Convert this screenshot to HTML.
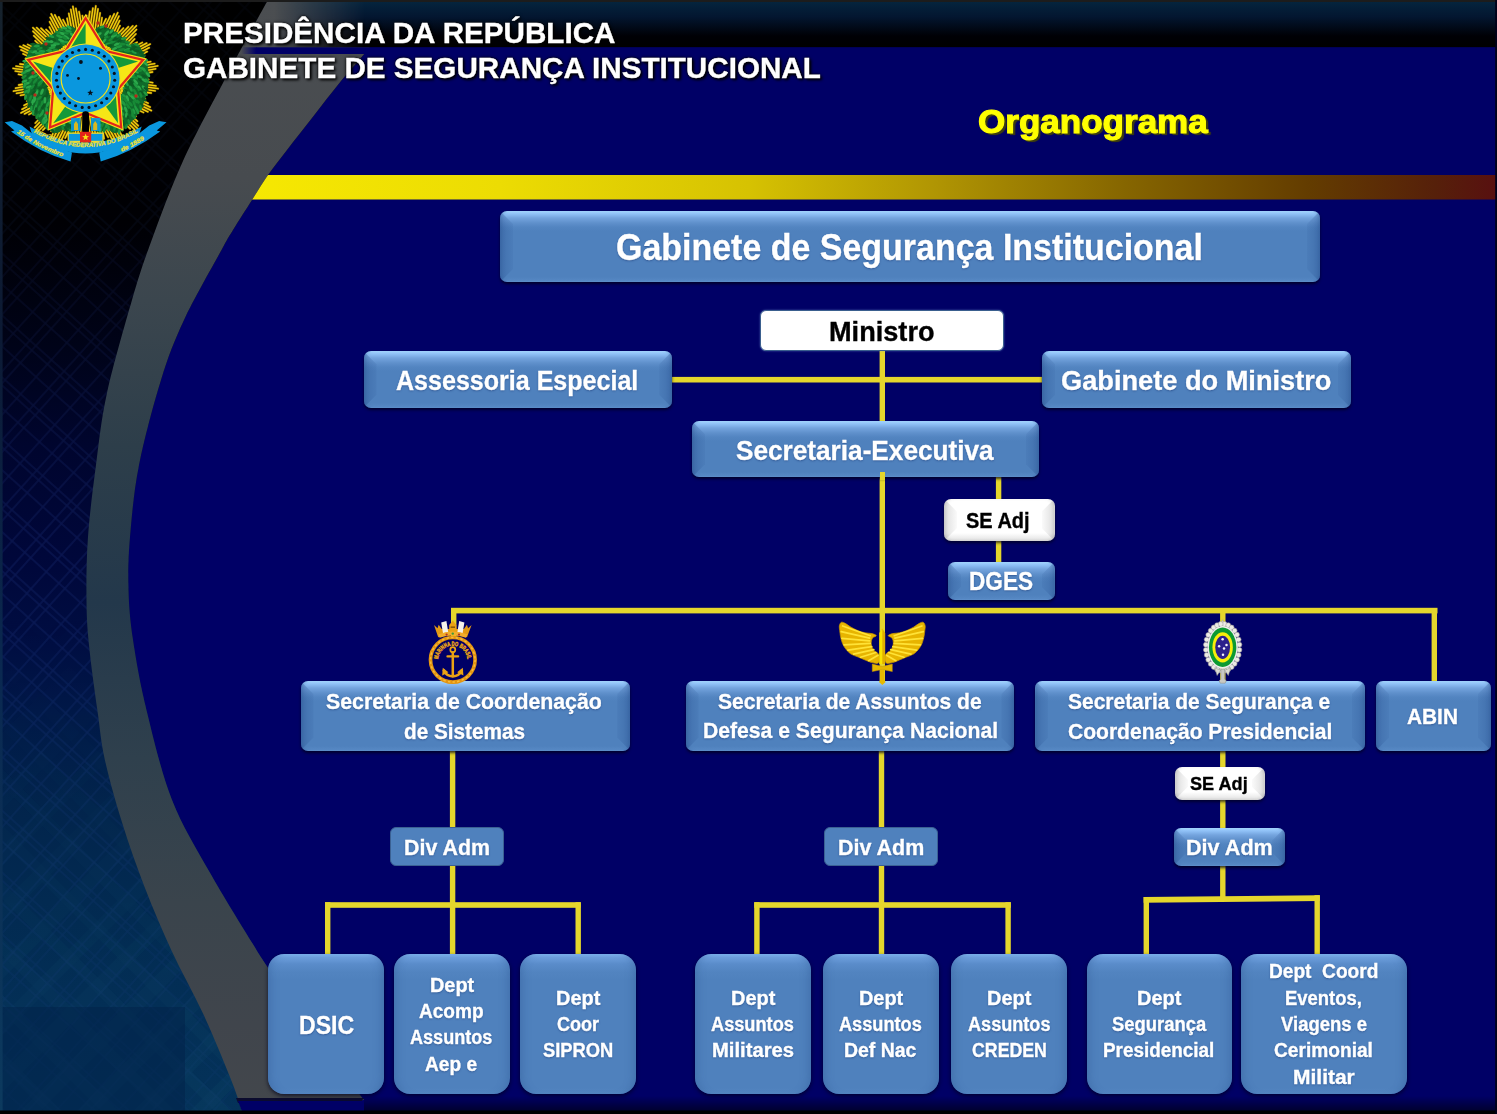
<!DOCTYPE html>
<html lang="pt-BR">
<head>
<meta charset="utf-8">
<title>Organograma - Gabinete de Segurança Institucional</title>
<style>
html,body{margin:0;padding:0;background:#000066;}
body{width:1497px;height:1114px;overflow:hidden;position:relative;font-family:"Liberation Sans",sans-serif;}
#page{position:absolute;left:0;top:0;width:1497px;height:1114px;overflow:hidden;background:#000066;}
#bg,#lines,#icons{position:absolute;left:0;top:0;}
.t{position:absolute;white-space:nowrap;font-weight:bold;line-height:1;transform-origin:0 0;font-family:"Liberation Sans",sans-serif;-webkit-text-stroke:0.35px currentColor;}
.b{position:absolute;box-sizing:border-box;background:#4f81bd;}
.b1{border-radius:7px;
 background:linear-gradient(to bottom,#a4d6ff 0,#8fc0f6 3px,#74a4de 7px,#5f90cb 12px,#5385c1 16px,#4f81bd 20px,#4f81bd calc(100% - 5px),#5688c4 calc(100% - 1px),#6395d0 100%);
 box-shadow:inset 5px 0 4px -4px rgba(40,80,140,.45),inset -5px 0 4px -4px rgba(40,80,140,.45),0 2px 3px rgba(0,0,25,.75);}
.b1::before,.w2::before{content:"";position:absolute;left:0;top:0;bottom:0;width:13px;clip-path:polygon(0 0,100% 13px,100% calc(100% - 13px),0 100%);border-radius:7px 0 0 7px;}
.b1::after,.w2::after{content:"";position:absolute;right:0;top:0;bottom:0;width:13px;clip-path:polygon(100% 0,0 13px,0 calc(100% - 13px),100% 100%);border-radius:0 7px 7px 0;}
.b1::before{background:linear-gradient(to right,rgba(35,75,140,.33),rgba(35,75,140,.08));}
.b1::after{background:linear-gradient(to left,rgba(35,75,140,.33),rgba(35,75,140,.08));}
.w2::before{background:linear-gradient(to right,rgba(130,130,130,.28),rgba(130,130,130,.04));}
.w2::after{background:linear-gradient(to left,rgba(130,130,130,.28),rgba(130,130,130,.04));}
.b2{border-radius:16px;
 background:linear-gradient(to bottom,#7fb2ee 0,#6a9cda 4px,#5a8cca 10px,#5284c0 18px,#4f81bd 26px,#4f81bd calc(100% - 6px),#5587c3 100%);
 box-shadow:inset 8px 0 8px -6px rgba(40,80,140,.35),inset -8px 0 8px -6px rgba(40,80,140,.35),0 2px 4px rgba(0,0,25,.7);}
.b3{border-radius:6px;background:#4f81bd;border:1.5px solid #3b6193;}
.w1{border-radius:6px;background:#fff;border:1.5px solid #3a5f8e;box-shadow:0 0 2px rgba(120,160,220,.6);}
.w2{border-radius:7px;
 background:linear-gradient(to bottom,#ffffff 0,#ffffff calc(100% - 8px),#ececec calc(100% - 3px),#d8d8d8 100%);
 box-shadow:inset 4px 0 4px -3px rgba(120,120,120,.35),inset -4px 0 4px -3px rgba(120,120,120,.35),0 2px 3px rgba(0,0,25,.7);}
</style>
</head>
<body>
<div id="page">
<svg id="bg" width="1497" height="1114" viewBox="0 0 1497 1114">
<defs>
<linearGradient id="gl" x1="0" y1="0" x2="0" y2="1114" gradientUnits="userSpaceOnUse">
<stop offset="0" stop-color="#000000"/><stop offset="0.20" stop-color="#000004"/><stop offset="0.31" stop-color="#000318"/>
<stop offset="0.40" stop-color="#00052e"/><stop offset="0.50" stop-color="#00073a"/><stop offset="0.58" stop-color="#000e42"/>
<stop offset="0.65" stop-color="#001a48"/><stop offset="0.72" stop-color="#02244c"/><stop offset="0.81" stop-color="#022a51"/>
<stop offset="0.905" stop-color="#032f56"/><stop offset="1" stop-color="#043259"/>
</linearGradient>
<linearGradient id="gb" x1="0" y1="0" x2="0" y2="1114" gradientUnits="userSpaceOnUse">
<stop offset="0" stop-color="#4b4e51"/><stop offset="0.16" stop-color="#474b4f"/><stop offset="0.27" stop-color="#3b464e"/>
<stop offset="0.40" stop-color="#2d3e4a"/><stop offset="0.54" stop-color="#23384b"/><stop offset="0.68" stop-color="#2f404d"/>
<stop offset="0.81" stop-color="#3a444c"/><stop offset="0.92" stop-color="#40454c"/><stop offset="1" stop-color="#43474c"/>
</linearGradient>
<linearGradient id="gy" x1="250" y1="0" x2="1497" y2="0" gradientUnits="userSpaceOnUse">
<stop offset="0" stop-color="#f6e802"/><stop offset="0.2" stop-color="#ecdc03"/><stop offset="0.4" stop-color="#d6c202"/>
<stop offset="0.55" stop-color="#b09503"/><stop offset="0.7" stop-color="#866600"/><stop offset="0.85" stop-color="#633c00"/>
<stop offset="0.95" stop-color="#56200a"/><stop offset="1" stop-color="#581010"/>
</linearGradient>
<linearGradient id="gls" x1="0" y1="0" x2="0" y2="1114" gradientUnits="userSpaceOnUse"><stop offset="0" stop-color="#16222c"/><stop offset="0.3" stop-color="#0c1a34"/><stop offset="0.6" stop-color="#0a2850"/><stop offset="1" stop-color="#0c3a5e"/></linearGradient>
<pattern id="grid" width="46" height="46" patternUnits="userSpaceOnUse" patternTransform="rotate(42)">
<path d="M0,3H46M0,9H46M0,26H46M3,0V46M20,0V46M28,0V46" stroke="#2a4a9c" stroke-width="1.5" fill="none" opacity=".3"/>
</pattern>
<pattern id="plaid" width="40" height="40" patternUnits="userSpaceOnUse" patternTransform="rotate(45)">
<rect x="0" y="0" width="14" height="40" fill="#3a8a9c" opacity=".5"/><rect x="0" y="22" width="40" height="12" fill="#3a8a9c" opacity=".5"/></pattern>
<linearGradient id="gfade2" x1="0" y1="0" x2="0" y2="1114" gradientUnits="userSpaceOnUse"><stop offset="0.55" stop-color="#fff" stop-opacity="0"/><stop offset="0.8" stop-color="#fff" stop-opacity=".07"/><stop offset="1" stop-color="#fff" stop-opacity=".12"/></linearGradient>
<mask id="mfade2"><rect width="420" height="1114" fill="url(#gfade2)"/></mask>
<linearGradient id="gfade" x1="0" y1="0" x2="0" y2="1114" gradientUnits="userSpaceOnUse">
<stop offset="0" stop-color="#fff" stop-opacity=".2"/><stop offset="0.18" stop-color="#fff" stop-opacity=".3"/><stop offset="0.5" stop-color="#fff" stop-opacity=".75"/><stop offset="1" stop-color="#fff" stop-opacity=".3"/>
</linearGradient>
<mask id="mfade"><rect width="420" height="1114" fill="url(#gfade)"/></mask>
<linearGradient id="ghd" x1="0" y1="0" x2="0" y2="48" gradientUnits="userSpaceOnUse">
<stop offset="0" stop-color="#05263f"/><stop offset="0.35" stop-color="#031630"/><stop offset="0.75" stop-color="#000005"/><stop offset="1" stop-color="#000000"/>
</linearGradient>
<linearGradient id="ghm" x1="275" y1="0" x2="365" y2="0" gradientUnits="userSpaceOnUse">
<stop offset="0" stop-color="#fff" stop-opacity="0"/><stop offset="0.4" stop-color="#fff" stop-opacity=".45"/><stop offset="1" stop-color="#fff" stop-opacity="1"/>
</linearGradient>
<mask id="mh"><rect x="0" y="0" width="365" height="60" fill="url(#ghm)"/><rect x="364.5" y="0" width="1497" height="60" fill="#fff"/></mask>
<linearGradient id="ghs" x1="241" y1="0" x2="256" y2="0" gradientUnits="userSpaceOnUse"><stop offset="0" stop-color="#000066" stop-opacity="0"/><stop offset="1" stop-color="#000066" stop-opacity="1"/></linearGradient>
</defs>
<rect width="1497" height="1114" fill="#000066"/>
<rect width="420" height="1114" fill="url(#gl)"/>
<rect width="420" height="1114" fill="url(#grid)" mask="url(#mfade)"/>
<rect width="420" height="1114" fill="url(#plaid)" mask="url(#mfade2)"/>
<rect x="0" y="1007" width="185" height="107" fill="#01224a" opacity=".55"/>
<rect x="0" y="0" width="2.6" height="1114" fill="url(#gls)"/>
<path d="M405.0,0.0 C399.2,7.8 380.7,33.5 370.0,47.0 C359.3,60.5 350.7,69.2 341.0,81.0 C331.3,92.8 321.0,106.5 312.0,118.0 C303.0,129.5 294.3,140.5 287.0,150.0 C279.7,159.5 273.8,166.7 268.0,175.0 C262.2,183.3 257.8,190.8 252.0,200.0 C246.2,209.2 238.1,221.7 233.0,230.0 C227.9,238.3 229.7,235.0 221.5,250.0 C213.3,265.0 194.1,298.3 184.0,320.0 C173.9,341.7 168.5,355.8 161.0,380.0 C153.5,404.2 144.2,438.8 139.0,465.0 C133.8,491.2 131.8,516.2 130.0,537.0 C128.2,557.8 128.0,572.8 128.5,590.0 C129.0,607.2 130.0,619.8 133.0,640.0 C136.0,660.2 140.2,684.3 146.7,711.0 C153.2,737.7 161.5,773.2 172.0,800.0 C182.5,826.8 196.1,848.1 209.5,872.0 C222.9,895.9 242.4,927.1 252.5,943.5 C262.6,959.9 260.4,956.1 270.0,970.5 C279.6,984.9 294.3,1008.4 310.0,1030.0 C325.7,1051.6 355.0,1088.3 364.0,1100.0 L364,1100 L240,1100 L243,1114 L1497,1114 L1497,0 Z" fill="#000066"/>
<path d="M274.0,-10.0 C273.0,-8.3 272.7,-8.3 268.0,0.0 C263.3,8.3 253.3,26.5 246.0,40.0 C238.7,53.5 234.5,60.8 224.0,81.0 C213.5,101.2 195.2,134.2 183.0,161.0 C170.8,187.8 159.5,218.8 151.0,242.0 C142.5,265.2 139.3,274.8 132.0,300.0 C124.7,325.2 113.0,365.5 107.0,393.0 C101.0,420.5 99.2,441.0 96.0,465.0 C92.8,489.0 89.6,514.5 88.0,537.0 C86.4,559.5 86.3,582.0 86.5,600.0 C86.7,618.0 87.2,626.5 89.0,645.0 C90.8,663.5 94.8,691.8 97.5,711.0 C100.2,730.2 100.8,741.2 104.9,760.0 C109.1,778.8 115.8,802.4 122.4,823.6 C129.0,844.8 136.4,865.9 144.6,887.1 C152.8,908.3 161.8,929.5 171.6,950.7 C181.4,971.9 193.6,993.1 203.4,1014.3 C213.2,1035.5 224.0,1062.0 230.4,1077.9 C236.8,1093.8 239.5,1103.7 241.6,1109.7 C243.7,1115.7 242.8,1113.3 243.0,1114.0 L364.0,1100.0 C355.0,1088.3 325.7,1051.6 310.0,1030.0 C294.3,1008.4 279.6,984.9 270.0,970.5 C260.4,956.1 262.6,959.9 252.5,943.5 C242.4,927.1 222.9,895.9 209.5,872.0 C196.1,848.1 182.5,826.8 172.0,800.0 C161.5,773.2 153.2,737.7 146.7,711.0 C140.2,684.3 136.0,660.2 133.0,640.0 C130.0,619.8 129.0,607.2 128.5,590.0 C128.0,572.8 128.2,557.8 130.0,537.0 C131.8,516.2 133.8,491.2 139.0,465.0 C144.2,438.8 153.5,404.2 161.0,380.0 C168.5,355.8 173.9,341.7 184.0,320.0 C194.1,298.3 213.3,265.0 221.5,250.0 C229.7,235.0 227.9,238.3 233.0,230.0 C238.1,221.7 246.2,209.2 252.0,200.0 C257.8,190.8 262.2,183.3 268.0,175.0 C273.8,166.7 279.7,159.5 287.0,150.0 C294.3,140.5 303.0,129.5 312.0,118.0 C321.0,106.5 331.3,92.8 341.0,81.0 C350.7,69.2 359.3,60.5 370.0,47.0 C380.7,33.5 399.2,7.8 405.0,0.0 Z" fill="url(#gb)"/>
<path d="M236,1098 L364,1098 L360,1103 L238,1103 Z" fill="#0b0b2e"/>
<path d="M238,1101 L420,1101 L420,1114 L243,1114 Z" fill="#000066"/>
<!-- yellow bar clipped by inner arc -->
<clipPath id="cb"><path d="M405.0,0.0 C399.2,7.8 380.7,33.5 370.0,47.0 C359.3,60.5 350.7,69.2 341.0,81.0 C331.3,92.8 321.0,106.5 312.0,118.0 C303.0,129.5 294.3,140.5 287.0,150.0 C279.7,159.5 273.8,166.7 268.0,175.0 C262.2,183.3 257.8,190.8 252.0,200.0 C246.2,209.2 238.1,221.7 233.0,230.0 C227.9,238.3 229.7,235.0 221.5,250.0 C213.3,265.0 194.1,298.3 184.0,320.0 C173.9,341.7 168.5,355.8 161.0,380.0 C153.5,404.2 144.2,438.8 139.0,465.0 C133.8,491.2 131.8,516.2 130.0,537.0 C128.2,557.8 128.0,572.8 128.5,590.0 C129.0,607.2 130.0,619.8 133.0,640.0 C136.0,660.2 140.2,684.3 146.7,711.0 C153.2,737.7 161.5,773.2 172.0,800.0 C182.5,826.8 196.1,848.1 209.5,872.0 C222.9,895.9 242.4,927.1 252.5,943.5 C262.6,959.9 260.4,956.1 270.0,970.5 C279.6,984.9 294.3,1008.4 310.0,1030.0 C325.7,1051.6 355.0,1088.3 364.0,1100.0 L364,1100 L240,1100 L243,1114 L1497,1114 L1497,0 Z"/></clipPath>
<rect x="240" y="175" width="1260" height="24.5" fill="url(#gy)" clip-path="url(#cb)"/>
<!-- header strip -->
<g mask="url(#mh)">
<rect x="240" y="0" width="1260" height="47.5" fill="url(#ghd)"/>
</g>
<rect x="241" y="47.3" width="16" height="6.7" fill="url(#ghs)"/><rect x="256.5" y="47.3" width="1260" height="6.7" fill="#000066"/>
<rect x="0" y="0" width="1497" height="2" fill="#1c1c1c"/>
<!-- bottom & right dark edges -->
<linearGradient id="gbt" x1="0" y1="1096" x2="0" y2="1111" gradientUnits="userSpaceOnUse">
<stop offset="0" stop-color="#000" stop-opacity="0"/><stop offset="1" stop-color="#000" stop-opacity=".55"/></linearGradient>
<rect x="364" y="1096" width="1140" height="15" fill="url(#gbt)"/>
<rect x="0" y="1110.5" width="1497" height="4" fill="#000"/>
<rect x="1495.2" y="0" width="2" height="1114" fill="#000018"/>
</svg>
<svg id="coat" style="position:absolute;left:0;top:0" width="180" height="175" viewBox="0 0 180 175"><defs><path id="rb1" d="M32,131.2 Q85.6,163 139.2,131.2"/><path id="rb2" d="M11,128.5 Q40,150.5 70,158.8"/><path id="rb3" d="M103,158.6 Q131,150.5 161,128"/></defs><path d="M83.0,40.8L86.6,15.5M85.6,41.1L89.8,11.4M88.2,41.5L92.9,8.2M90.7,41.9L95.8,6.0M93.3,42.2L98.0,8.9M95.9,42.6L100.1,12.9M98.5,42.9L102.0,17.7M94.8,41.8L106.0,18.9M97.1,43.0L110.3,16.0M99.5,44.1L114.2,13.9M101.8,45.2L117.7,12.7M104.2,46.4L118.9,16.2M106.5,47.5L119.6,20.6M108.8,48.7L120.0,25.7M105.7,46.5L123.4,28.1M107.6,48.3L128.4,26.7M109.4,50.1L132.8,25.9M111.3,51.9L136.4,25.8M113.2,53.7L136.5,29.5M115.0,55.5L135.9,33.9M116.9,57.3L134.6,39.0M114.6,54.2L137.1,42.3M115.8,56.5L142.3,42.5M117.0,58.8L146.7,43.1M118.3,61.1L150.2,44.1M119.5,63.4L149.2,47.7M120.7,65.7L147.2,51.6M121.9,68.0L144.4,56.0M120.7,64.4L145.8,60.0M121.1,67.0L150.7,61.7M121.6,69.5L154.7,63.7M122.0,72.1L157.7,65.8M122.5,74.6L155.6,68.8M122.9,77.2L152.5,72.0M123.4,79.8L148.5,75.3M123.3,75.9L148.6,79.5M123.0,78.5L152.7,82.7M122.6,81.1L155.9,85.8M122.2,83.6L158.1,88.7M121.9,86.2L155.2,90.9M121.5,88.8L151.2,93.0M121.2,91.4L146.4,94.9M122.3,87.7L145.2,98.9M121.1,90.0L148.1,103.2M120.0,92.4L150.2,107.1M118.9,94.7L151.4,110.6M117.7,97.1L147.9,111.8M116.6,99.4L143.5,112.5M115.4,101.7L138.4,112.9M117.6,98.6L136.0,116.3M115.8,100.5L137.4,121.3M114.0,102.3L138.2,125.7M112.2,104.2L138.3,129.3M110.4,106.1L134.6,129.4M108.6,107.9L130.2,128.8M106.8,109.8L125.1,127.5M109.9,107.5L121.8,130.0M107.6,108.7L121.6,135.2M105.3,109.9L121.0,139.6M103.0,111.2L120.0,143.1M100.7,112.4L116.4,142.1M98.4,113.6L112.5,140.1M96.1,114.8L108.1,137.3M99.7,113.6L104.1,138.7M97.1,114.0L102.4,143.6M94.6,114.5L100.4,147.6M92.0,114.9L98.3,150.6M89.5,115.4L95.3,148.5M86.9,115.8L92.1,145.4M84.3,116.3L88.8,141.4M88.2,116.2L84.6,141.5M85.6,115.9L81.4,145.6M83.0,115.5L78.3,148.8M80.5,115.1L75.4,151.0M77.9,114.8L73.2,148.1M75.3,114.4L71.1,144.1M72.7,114.1L69.2,139.3M76.4,115.2L65.2,138.1M74.1,114.0L60.9,141.0M71.7,112.9L57.0,143.1M69.4,111.8L53.5,144.3M67.0,110.6L52.3,140.8M64.7,109.5L51.6,136.4M62.4,108.3L51.2,131.3M65.5,110.5L47.8,128.9M63.6,108.7L42.8,130.3M61.8,106.9L38.4,131.1M59.9,105.1L34.8,131.2M58.0,103.3L34.7,127.5M56.2,101.5L35.3,123.1M54.3,99.7L36.6,118.0M56.6,102.8L34.1,114.7M55.4,100.5L28.9,114.5M54.2,98.2L24.5,113.9M52.9,95.9L21.0,112.9M51.7,93.6L22.0,109.3M50.5,91.3L24.0,105.4M49.3,89.0L26.8,101.0M50.5,92.6L25.4,97.0M50.1,90.0L20.5,95.3M49.6,87.5L16.5,93.3M49.2,84.9L13.5,91.2M48.7,82.4L15.6,88.2M48.3,79.8L18.7,85.0M47.8,77.2L22.7,81.7M47.9,81.1L22.6,77.5M48.2,78.5L18.5,74.3M48.6,75.9L15.3,71.2M49.0,73.4L13.1,68.3M49.3,70.8L16.0,66.1M49.7,68.2L20.0,64.0M50.0,65.6L24.8,62.1M48.9,69.3L26.0,58.1M50.1,67.0L23.1,53.8M51.2,64.6L21.0,49.9M52.3,62.3L19.8,46.4M53.5,59.9L23.3,45.2M54.6,57.6L27.7,44.5M55.8,55.3L32.8,44.1M53.6,58.4L35.2,40.7M55.4,56.5L33.8,35.7M57.2,54.7L33.0,31.3M59.0,52.8L32.9,27.7M60.8,50.9L36.6,27.6M62.6,49.1L41.0,28.2M64.4,47.2L46.1,29.5M61.3,49.5L49.4,27.0M63.6,48.3L49.6,21.8M65.9,47.1L50.2,17.4M68.2,45.8L51.2,13.9M70.5,44.6L54.8,14.9M72.8,43.4L58.7,16.9M75.1,42.2L63.1,19.7M71.5,43.4L67.1,18.3M74.1,43.0L68.8,13.4M76.6,42.5L70.8,9.4M79.2,42.1L72.9,6.4M81.7,41.6L75.9,8.5M84.3,41.2L79.1,11.6M86.9,40.7L82.4,15.6" stroke="#7a5c00" stroke-width="2.3" stroke-linecap="round" fill="none"/><path d="M83.0,40.8L86.6,15.5M85.6,41.1L89.8,11.4M88.2,41.5L92.9,8.2M90.7,41.9L95.8,6.0M93.3,42.2L98.0,8.9M95.9,42.6L100.1,12.9M98.5,42.9L102.0,17.7M94.8,41.8L106.0,18.9M97.1,43.0L110.3,16.0M99.5,44.1L114.2,13.9M101.8,45.2L117.7,12.7M104.2,46.4L118.9,16.2M106.5,47.5L119.6,20.6M108.8,48.7L120.0,25.7M105.7,46.5L123.4,28.1M107.6,48.3L128.4,26.7M109.4,50.1L132.8,25.9M111.3,51.9L136.4,25.8M113.2,53.7L136.5,29.5M115.0,55.5L135.9,33.9M116.9,57.3L134.6,39.0M114.6,54.2L137.1,42.3M115.8,56.5L142.3,42.5M117.0,58.8L146.7,43.1M118.3,61.1L150.2,44.1M119.5,63.4L149.2,47.7M120.7,65.7L147.2,51.6M121.9,68.0L144.4,56.0M120.7,64.4L145.8,60.0M121.1,67.0L150.7,61.7M121.6,69.5L154.7,63.7M122.0,72.1L157.7,65.8M122.5,74.6L155.6,68.8M122.9,77.2L152.5,72.0M123.4,79.8L148.5,75.3M123.3,75.9L148.6,79.5M123.0,78.5L152.7,82.7M122.6,81.1L155.9,85.8M122.2,83.6L158.1,88.7M121.9,86.2L155.2,90.9M121.5,88.8L151.2,93.0M121.2,91.4L146.4,94.9M122.3,87.7L145.2,98.9M121.1,90.0L148.1,103.2M120.0,92.4L150.2,107.1M118.9,94.7L151.4,110.6M117.7,97.1L147.9,111.8M116.6,99.4L143.5,112.5M115.4,101.7L138.4,112.9M117.6,98.6L136.0,116.3M115.8,100.5L137.4,121.3M114.0,102.3L138.2,125.7M112.2,104.2L138.3,129.3M110.4,106.1L134.6,129.4M108.6,107.9L130.2,128.8M106.8,109.8L125.1,127.5M109.9,107.5L121.8,130.0M107.6,108.7L121.6,135.2M105.3,109.9L121.0,139.6M103.0,111.2L120.0,143.1M100.7,112.4L116.4,142.1M98.4,113.6L112.5,140.1M96.1,114.8L108.1,137.3M99.7,113.6L104.1,138.7M97.1,114.0L102.4,143.6M94.6,114.5L100.4,147.6M92.0,114.9L98.3,150.6M89.5,115.4L95.3,148.5M86.9,115.8L92.1,145.4M84.3,116.3L88.8,141.4M88.2,116.2L84.6,141.5M85.6,115.9L81.4,145.6M83.0,115.5L78.3,148.8M80.5,115.1L75.4,151.0M77.9,114.8L73.2,148.1M75.3,114.4L71.1,144.1M72.7,114.1L69.2,139.3M76.4,115.2L65.2,138.1M74.1,114.0L60.9,141.0M71.7,112.9L57.0,143.1M69.4,111.8L53.5,144.3M67.0,110.6L52.3,140.8M64.7,109.5L51.6,136.4M62.4,108.3L51.2,131.3M65.5,110.5L47.8,128.9M63.6,108.7L42.8,130.3M61.8,106.9L38.4,131.1M59.9,105.1L34.8,131.2M58.0,103.3L34.7,127.5M56.2,101.5L35.3,123.1M54.3,99.7L36.6,118.0M56.6,102.8L34.1,114.7M55.4,100.5L28.9,114.5M54.2,98.2L24.5,113.9M52.9,95.9L21.0,112.9M51.7,93.6L22.0,109.3M50.5,91.3L24.0,105.4M49.3,89.0L26.8,101.0M50.5,92.6L25.4,97.0M50.1,90.0L20.5,95.3M49.6,87.5L16.5,93.3M49.2,84.9L13.5,91.2M48.7,82.4L15.6,88.2M48.3,79.8L18.7,85.0M47.8,77.2L22.7,81.7M47.9,81.1L22.6,77.5M48.2,78.5L18.5,74.3M48.6,75.9L15.3,71.2M49.0,73.4L13.1,68.3M49.3,70.8L16.0,66.1M49.7,68.2L20.0,64.0M50.0,65.6L24.8,62.1M48.9,69.3L26.0,58.1M50.1,67.0L23.1,53.8M51.2,64.6L21.0,49.9M52.3,62.3L19.8,46.4M53.5,59.9L23.3,45.2M54.6,57.6L27.7,44.5M55.8,55.3L32.8,44.1M53.6,58.4L35.2,40.7M55.4,56.5L33.8,35.7M57.2,54.7L33.0,31.3M59.0,52.8L32.9,27.7M60.8,50.9L36.6,27.6M62.6,49.1L41.0,28.2M64.4,47.2L46.1,29.5M61.3,49.5L49.4,27.0M63.6,48.3L49.6,21.8M65.9,47.1L50.2,17.4M68.2,45.8L51.2,13.9M70.5,44.6L54.8,14.9M72.8,43.4L58.7,16.9M75.1,42.2L63.1,19.7M71.5,43.4L67.1,18.3M74.1,43.0L68.8,13.4M76.6,42.5L70.8,9.4M79.2,42.1L72.9,6.4M81.7,41.6L75.9,8.5M84.3,41.2L79.1,11.6M86.9,40.7L82.4,15.6" stroke="#f2cf10" stroke-width="1.35" stroke-linecap="round" fill="none"/><path d="M71.7,123.9A47.5,47.5 0 0 1 69.4,33.9" fill="none" stroke="#0f6a2a" stroke-width="16" stroke-linecap="round"/><path d="M99.5,123.9A47.5,47.5 0 0 0 101.8,33.9" fill="none" stroke="#0f6a2a" stroke-width="16" stroke-linecap="round"/><path d="M55.9,126.0A56,56 0 0 1 37.1,50.5" fill="none" stroke="#0f6a2a" stroke-width="14" stroke-linecap="round"/><path d="M115.3,126.0A56,56 0 0 0 134.1,50.5" fill="none" stroke="#0f6a2a" stroke-width="14" stroke-linecap="round"/><ellipse cx="72.5" cy="39.9" rx="1.3" ry="3.0" fill="#1f9a40" transform="rotate(-46 72.5 39.9)"/><ellipse cx="72.6" cy="35.2" rx="1.4" ry="3.4" fill="#2aa84a" transform="rotate(-48 72.6 35.2)"/><ellipse cx="68.5" cy="31.1" rx="1.4" ry="3.4" fill="#1f9a40" transform="rotate(-76 68.5 31.1)"/><ellipse cx="69.2" cy="27.4" rx="1.3" ry="3.0" fill="#2aa84a" transform="rotate(-50 69.2 27.4)"/><ellipse cx="69.6" cy="40.0" rx="1.3" ry="3.0" fill="#0c5a22" transform="rotate(-79 69.6 40.0)"/><ellipse cx="66.5" cy="37.3" rx="1.4" ry="3.4" fill="#2aa84a" transform="rotate(-57 66.5 37.3)"/><ellipse cx="65.4" cy="33.0" rx="1.4" ry="3.4" fill="#178a36" transform="rotate(-78 65.4 33.0)"/><ellipse cx="64.3" cy="27.9" rx="1.3" ry="3.0" fill="#2aa84a" transform="rotate(-78 64.3 27.9)"/><ellipse cx="65.7" cy="42.0" rx="1.3" ry="3.0" fill="#1f9a40" transform="rotate(-85 65.7 42.0)"/><ellipse cx="64.3" cy="37.7" rx="1.4" ry="3.4" fill="#178a36" transform="rotate(-61 64.3 37.7)"/><ellipse cx="61.3" cy="33.3" rx="1.4" ry="3.4" fill="#2aa84a" transform="rotate(-70 61.3 33.3)"/><ellipse cx="60.8" cy="29.5" rx="1.3" ry="3.0" fill="#178a36" transform="rotate(-75 60.8 29.5)"/><ellipse cx="62.6" cy="43.1" rx="1.3" ry="3.0" fill="#178a36" transform="rotate(-57 62.6 43.1)"/><ellipse cx="61.2" cy="40.5" rx="1.4" ry="3.4" fill="#2aa84a" transform="rotate(-67 61.2 40.5)"/><ellipse cx="59.2" cy="36.3" rx="1.4" ry="3.4" fill="#1f9a40" transform="rotate(-68 59.2 36.3)"/><ellipse cx="57.8" cy="32.6" rx="1.3" ry="3.0" fill="#178a36" transform="rotate(-63 57.8 32.6)"/><ellipse cx="59.8" cy="46.4" rx="1.3" ry="3.0" fill="#0c5a22" transform="rotate(-74 59.8 46.4)"/><ellipse cx="56.6" cy="43.8" rx="1.4" ry="3.4" fill="#1f9a40" transform="rotate(-86 56.6 43.8)"/><ellipse cx="53.0" cy="39.4" rx="1.4" ry="3.4" fill="#0c5a22" transform="rotate(-68 53.0 39.4)"/><ellipse cx="51.4" cy="36.3" rx="1.3" ry="3.0" fill="#1f9a40" transform="rotate(-66 51.4 36.3)"/><ellipse cx="58.3" cy="47.6" rx="1.3" ry="3.0" fill="#0c5a22" transform="rotate(-71 58.3 47.6)"/><ellipse cx="52.7" cy="45.6" rx="1.4" ry="3.4" fill="#2aa84a" transform="rotate(-98 52.7 45.6)"/><ellipse cx="50.2" cy="41.3" rx="1.4" ry="3.4" fill="#2aa84a" transform="rotate(-79 50.2 41.3)"/><ellipse cx="48.1" cy="38.8" rx="1.3" ry="3.0" fill="#0c5a22" transform="rotate(-59 48.1 38.8)"/><ellipse cx="55.7" cy="50.4" rx="1.3" ry="3.0" fill="#178a36" transform="rotate(-86 55.7 50.4)"/><ellipse cx="51.9" cy="47.6" rx="1.4" ry="3.4" fill="#1f9a40" transform="rotate(-96 51.9 47.6)"/><ellipse cx="47.6" cy="46.1" rx="1.4" ry="3.4" fill="#0c5a22" transform="rotate(-98 47.6 46.1)"/><ellipse cx="46.3" cy="41.7" rx="1.3" ry="3.0" fill="#2aa84a" transform="rotate(-93 46.3 41.7)"/><ellipse cx="52.4" cy="54.0" rx="1.3" ry="3.0" fill="#2aa84a" transform="rotate(-85 52.4 54.0)"/><ellipse cx="49.1" cy="50.5" rx="1.4" ry="3.4" fill="#1f9a40" transform="rotate(-82 49.1 50.5)"/><ellipse cx="44.5" cy="48.0" rx="1.4" ry="3.4" fill="#0c5a22" transform="rotate(-66 44.5 48.0)"/><ellipse cx="41.9" cy="46.3" rx="1.3" ry="3.0" fill="#0c5a22" transform="rotate(-90 41.9 46.3)"/><ellipse cx="50.4" cy="58.2" rx="1.3" ry="3.0" fill="#2aa84a" transform="rotate(-110 50.4 58.2)"/><ellipse cx="45.7" cy="55.3" rx="1.4" ry="3.4" fill="#2aa84a" transform="rotate(-115 45.7 55.3)"/><ellipse cx="42.0" cy="51.4" rx="1.4" ry="3.4" fill="#1f9a40" transform="rotate(-87 42.0 51.4)"/><ellipse cx="39.8" cy="48.5" rx="1.3" ry="3.0" fill="#178a36" transform="rotate(-109 39.8 48.5)"/><ellipse cx="36.7" cy="46.1" rx="1.3" ry="3.2" fill="#1f9a40" transform="rotate(-93 36.7 46.1)"/><ellipse cx="32.8" cy="44.1" rx="1.3" ry="3.0" fill="#0c5a22" transform="rotate(-94 32.8 44.1)"/><ellipse cx="48.9" cy="60.7" rx="1.3" ry="3.0" fill="#178a36" transform="rotate(-87 48.9 60.7)"/><ellipse cx="44.1" cy="57.7" rx="1.4" ry="3.4" fill="#2aa84a" transform="rotate(-98 44.1 57.7)"/><ellipse cx="41.2" cy="54.4" rx="1.4" ry="3.4" fill="#1f9a40" transform="rotate(-114 41.2 54.4)"/><ellipse cx="37.7" cy="53.3" rx="1.3" ry="3.0" fill="#1f9a40" transform="rotate(-90 37.7 53.3)"/><ellipse cx="34.1" cy="51.7" rx="1.3" ry="3.2" fill="#2aa84a" transform="rotate(-104 34.1 51.7)"/><ellipse cx="30.4" cy="51.5" rx="1.3" ry="3.0" fill="#178a36" transform="rotate(-97 30.4 51.5)"/><ellipse cx="47.0" cy="62.7" rx="1.3" ry="3.0" fill="#2aa84a" transform="rotate(-88 47.0 62.7)"/><ellipse cx="42.6" cy="60.4" rx="1.4" ry="3.4" fill="#2aa84a" transform="rotate(-90 42.6 60.4)"/><ellipse cx="38.3" cy="60.9" rx="1.4" ry="3.4" fill="#1f9a40" transform="rotate(-93 38.3 60.9)"/><ellipse cx="35.4" cy="57.4" rx="1.3" ry="3.0" fill="#178a36" transform="rotate(-118 35.4 57.4)"/><ellipse cx="30.3" cy="56.8" rx="1.3" ry="3.2" fill="#178a36" transform="rotate(-79 30.3 56.8)"/><ellipse cx="28.1" cy="57.6" rx="1.3" ry="3.0" fill="#178a36" transform="rotate(-107 28.1 57.6)"/><ellipse cx="45.4" cy="67.4" rx="1.3" ry="3.0" fill="#1f9a40" transform="rotate(-90 45.4 67.4)"/><ellipse cx="41.2" cy="65.3" rx="1.4" ry="3.4" fill="#1f9a40" transform="rotate(-93 41.2 65.3)"/><ellipse cx="38.3" cy="63.2" rx="1.4" ry="3.4" fill="#2aa84a" transform="rotate(-113 38.3 63.2)"/><ellipse cx="34.0" cy="63.2" rx="1.3" ry="3.0" fill="#178a36" transform="rotate(-94 34.0 63.2)"/><ellipse cx="28.2" cy="63.2" rx="1.3" ry="3.2" fill="#0c5a22" transform="rotate(-99 28.2 63.2)"/><ellipse cx="25.2" cy="60.9" rx="1.3" ry="3.0" fill="#2aa84a" transform="rotate(-98 25.2 60.9)"/><ellipse cx="46.2" cy="69.0" rx="1.3" ry="3.0" fill="#0c5a22" transform="rotate(-107 46.2 69.0)"/><ellipse cx="41.4" cy="68.5" rx="1.4" ry="3.4" fill="#0c5a22" transform="rotate(-96 41.4 68.5)"/><ellipse cx="36.5" cy="67.9" rx="1.4" ry="3.4" fill="#2aa84a" transform="rotate(-110 36.5 67.9)"/><ellipse cx="31.3" cy="69.2" rx="1.3" ry="3.0" fill="#1f9a40" transform="rotate(-104 31.3 69.2)"/><ellipse cx="27.5" cy="66.5" rx="1.3" ry="3.2" fill="#2aa84a" transform="rotate(-117 27.5 66.5)"/><ellipse cx="25.7" cy="64.8" rx="1.3" ry="3.0" fill="#178a36" transform="rotate(-125 25.7 64.8)"/><ellipse cx="43.8" cy="73.7" rx="1.3" ry="3.0" fill="#0c5a22" transform="rotate(-127 43.8 73.7)"/><ellipse cx="40.9" cy="72.3" rx="1.4" ry="3.4" fill="#0c5a22" transform="rotate(-105 40.9 72.3)"/><ellipse cx="34.9" cy="72.1" rx="1.4" ry="3.4" fill="#2aa84a" transform="rotate(-117 34.9 72.1)"/><ellipse cx="31.4" cy="72.2" rx="1.3" ry="3.0" fill="#0c5a22" transform="rotate(-142 31.4 72.2)"/><ellipse cx="27.4" cy="70.7" rx="1.3" ry="3.2" fill="#2aa84a" transform="rotate(-104 27.4 70.7)"/><ellipse cx="23.9" cy="72.8" rx="1.3" ry="3.0" fill="#1f9a40" transform="rotate(-108 23.9 72.8)"/><ellipse cx="44.1" cy="77.9" rx="1.3" ry="3.0" fill="#1f9a40" transform="rotate(-121 44.1 77.9)"/><ellipse cx="40.6" cy="76.1" rx="1.4" ry="3.4" fill="#1f9a40" transform="rotate(-137 40.6 76.1)"/><ellipse cx="35.1" cy="76.2" rx="1.4" ry="3.4" fill="#1f9a40" transform="rotate(-119 35.1 76.2)"/><ellipse cx="30.9" cy="77.3" rx="1.3" ry="3.0" fill="#2aa84a" transform="rotate(-123 30.9 77.3)"/><ellipse cx="27.2" cy="76.2" rx="1.3" ry="3.2" fill="#0c5a22" transform="rotate(-121 27.2 76.2)"/><ellipse cx="24.1" cy="76.8" rx="1.3" ry="3.0" fill="#178a36" transform="rotate(-122 24.1 76.8)"/><ellipse cx="43.3" cy="79.8" rx="1.3" ry="3.0" fill="#0c5a22" transform="rotate(-142 43.3 79.8)"/><ellipse cx="40.5" cy="82.4" rx="1.4" ry="3.4" fill="#1f9a40" transform="rotate(-133 40.5 82.4)"/><ellipse cx="35.3" cy="81.0" rx="1.4" ry="3.4" fill="#178a36" transform="rotate(-142 35.3 81.0)"/><ellipse cx="30.4" cy="80.8" rx="1.3" ry="3.0" fill="#178a36" transform="rotate(-145 30.4 80.8)"/><ellipse cx="26.6" cy="83.6" rx="1.3" ry="3.2" fill="#2aa84a" transform="rotate(-107 26.6 83.6)"/><ellipse cx="24.5" cy="81.2" rx="1.3" ry="3.0" fill="#2aa84a" transform="rotate(-108 24.5 81.2)"/><ellipse cx="43.7" cy="83.3" rx="1.3" ry="3.0" fill="#0c5a22" transform="rotate(-149 43.7 83.3)"/><ellipse cx="40.1" cy="83.7" rx="1.4" ry="3.4" fill="#178a36" transform="rotate(-136 40.1 83.7)"/><ellipse cx="35.3" cy="86.7" rx="1.4" ry="3.4" fill="#0c5a22" transform="rotate(-158 35.3 86.7)"/><ellipse cx="32.7" cy="86.7" rx="1.3" ry="3.0" fill="#178a36" transform="rotate(-142 32.7 86.7)"/><ellipse cx="28.6" cy="87.0" rx="1.3" ry="3.2" fill="#2aa84a" transform="rotate(-109 28.6 87.0)"/><ellipse cx="24.8" cy="85.6" rx="1.3" ry="3.0" fill="#1f9a40" transform="rotate(-143 24.8 85.6)"/><ellipse cx="45.6" cy="87.0" rx="1.3" ry="3.0" fill="#0c5a22" transform="rotate(-124 45.6 87.0)"/><ellipse cx="40.3" cy="88.3" rx="1.4" ry="3.4" fill="#0c5a22" transform="rotate(-115 40.3 88.3)"/><ellipse cx="36.0" cy="91.8" rx="1.4" ry="3.4" fill="#178a36" transform="rotate(-136 36.0 91.8)"/><ellipse cx="33.9" cy="92.6" rx="1.3" ry="3.0" fill="#0c5a22" transform="rotate(-131 33.9 92.6)"/><ellipse cx="28.8" cy="90.6" rx="1.3" ry="3.2" fill="#1f9a40" transform="rotate(-161 28.8 90.6)"/><ellipse cx="25.9" cy="91.6" rx="1.3" ry="3.0" fill="#1f9a40" transform="rotate(-120 25.9 91.6)"/><ellipse cx="47.2" cy="92.1" rx="1.3" ry="3.0" fill="#0c5a22" transform="rotate(-169 47.2 92.1)"/><ellipse cx="42.0" cy="91.7" rx="1.4" ry="3.4" fill="#2aa84a" transform="rotate(-160 42.0 91.7)"/><ellipse cx="36.4" cy="93.4" rx="1.4" ry="3.4" fill="#2aa84a" transform="rotate(-154 36.4 93.4)"/><ellipse cx="34.7" cy="96.8" rx="1.3" ry="3.0" fill="#2aa84a" transform="rotate(-155 34.7 96.8)"/><ellipse cx="30.4" cy="98.0" rx="1.3" ry="3.2" fill="#178a36" transform="rotate(-161 30.4 98.0)"/><ellipse cx="25.5" cy="97.3" rx="1.3" ry="3.0" fill="#1f9a40" transform="rotate(-166 25.5 97.3)"/><ellipse cx="47.2" cy="94.6" rx="1.3" ry="3.0" fill="#0c5a22" transform="rotate(-163 47.2 94.6)"/><ellipse cx="43.9" cy="97.7" rx="1.4" ry="3.4" fill="#0c5a22" transform="rotate(-142 43.9 97.7)"/><ellipse cx="39.0" cy="98.3" rx="1.4" ry="3.4" fill="#178a36" transform="rotate(-129 39.0 98.3)"/><ellipse cx="34.5" cy="100.1" rx="1.3" ry="3.0" fill="#2aa84a" transform="rotate(-156 34.5 100.1)"/><ellipse cx="32.5" cy="102.2" rx="1.3" ry="3.2" fill="#2aa84a" transform="rotate(-171 32.5 102.2)"/><ellipse cx="29.5" cy="105.4" rx="1.3" ry="3.0" fill="#0c5a22" transform="rotate(-132 29.5 105.4)"/><ellipse cx="50.4" cy="98.9" rx="1.3" ry="3.0" fill="#178a36" transform="rotate(-138 50.4 98.9)"/><ellipse cx="44.8" cy="100.5" rx="1.4" ry="3.4" fill="#2aa84a" transform="rotate(-176 44.8 100.5)"/><ellipse cx="42.0" cy="103.7" rx="1.4" ry="3.4" fill="#178a36" transform="rotate(-167 42.0 103.7)"/><ellipse cx="36.9" cy="103.1" rx="1.3" ry="3.0" fill="#178a36" transform="rotate(-165 36.9 103.1)"/><ellipse cx="35.4" cy="107.3" rx="1.3" ry="3.2" fill="#1f9a40" transform="rotate(-163 35.4 107.3)"/><ellipse cx="31.3" cy="108.4" rx="1.3" ry="3.0" fill="#1f9a40" transform="rotate(-169 31.3 108.4)"/><ellipse cx="51.2" cy="102.9" rx="1.3" ry="3.0" fill="#1f9a40" transform="rotate(-178 51.2 102.9)"/><ellipse cx="47.9" cy="104.1" rx="1.4" ry="3.4" fill="#1f9a40" transform="rotate(-153 47.9 104.1)"/><ellipse cx="43.4" cy="106.3" rx="1.4" ry="3.4" fill="#0c5a22" transform="rotate(-146 43.4 106.3)"/><ellipse cx="39.3" cy="108.2" rx="1.3" ry="3.0" fill="#178a36" transform="rotate(-158 39.3 108.2)"/><ellipse cx="36.2" cy="110.4" rx="1.3" ry="3.2" fill="#0c5a22" transform="rotate(-181 36.2 110.4)"/><ellipse cx="33.0" cy="112.4" rx="1.3" ry="3.0" fill="#1f9a40" transform="rotate(-176 33.0 112.4)"/><ellipse cx="52.5" cy="103.8" rx="1.3" ry="3.0" fill="#2aa84a" transform="rotate(-143 52.5 103.8)"/><ellipse cx="51.3" cy="107.7" rx="1.4" ry="3.4" fill="#1f9a40" transform="rotate(-159 51.3 107.7)"/><ellipse cx="46.6" cy="110.4" rx="1.4" ry="3.4" fill="#1f9a40" transform="rotate(-187 46.6 110.4)"/><ellipse cx="42.5" cy="112.5" rx="1.3" ry="3.0" fill="#1f9a40" transform="rotate(-164 42.5 112.5)"/><ellipse cx="40.8" cy="114.7" rx="1.3" ry="3.2" fill="#1f9a40" transform="rotate(-142 40.8 114.7)"/><ellipse cx="37.5" cy="116.2" rx="1.3" ry="3.0" fill="#178a36" transform="rotate(-151 37.5 116.2)"/><ellipse cx="54.5" cy="107.0" rx="1.3" ry="3.0" fill="#2aa84a" transform="rotate(-181 54.5 107.0)"/><ellipse cx="52.8" cy="111.2" rx="1.4" ry="3.4" fill="#0c5a22" transform="rotate(-172 52.8 111.2)"/><ellipse cx="49.6" cy="115.1" rx="1.4" ry="3.4" fill="#1f9a40" transform="rotate(-181 49.6 115.1)"/><ellipse cx="45.7" cy="116.1" rx="1.3" ry="3.0" fill="#2aa84a" transform="rotate(-189 45.7 116.1)"/><ellipse cx="43.6" cy="119.7" rx="1.3" ry="3.2" fill="#2aa84a" transform="rotate(-160 43.6 119.7)"/><ellipse cx="42.9" cy="122.3" rx="1.3" ry="3.0" fill="#1f9a40" transform="rotate(-182 42.9 122.3)"/><ellipse cx="57.6" cy="109.6" rx="1.3" ry="3.0" fill="#178a36" transform="rotate(-184 57.6 109.6)"/><ellipse cx="55.4" cy="113.1" rx="1.4" ry="3.4" fill="#2aa84a" transform="rotate(-193 55.4 113.1)"/><ellipse cx="53.4" cy="116.3" rx="1.4" ry="3.4" fill="#178a36" transform="rotate(-176 53.4 116.3)"/><ellipse cx="49.4" cy="120.1" rx="1.3" ry="3.0" fill="#0c5a22" transform="rotate(-151 49.4 120.1)"/><ellipse cx="45.7" cy="121.0" rx="1.3" ry="3.2" fill="#2aa84a" transform="rotate(-151 45.7 121.0)"/><ellipse cx="46.7" cy="125.7" rx="1.3" ry="3.0" fill="#178a36" transform="rotate(-163 46.7 125.7)"/><ellipse cx="60.5" cy="110.6" rx="1.3" ry="3.0" fill="#178a36" transform="rotate(-161 60.5 110.6)"/><ellipse cx="57.2" cy="115.2" rx="1.4" ry="3.4" fill="#0c5a22" transform="rotate(-191 57.2 115.2)"/><ellipse cx="56.5" cy="118.9" rx="1.4" ry="3.4" fill="#0c5a22" transform="rotate(-157 56.5 118.9)"/><ellipse cx="53.5" cy="123.1" rx="1.3" ry="3.0" fill="#0c5a22" transform="rotate(-183 53.5 123.1)"/><ellipse cx="51.3" cy="126.7" rx="1.3" ry="3.2" fill="#178a36" transform="rotate(-205 51.3 126.7)"/><ellipse cx="48.3" cy="127.1" rx="1.3" ry="3.0" fill="#1f9a40" transform="rotate(-156 48.3 127.1)"/><ellipse cx="63.4" cy="113.1" rx="1.3" ry="3.0" fill="#0c5a22" transform="rotate(-189 63.4 113.1)"/><ellipse cx="61.8" cy="118.7" rx="1.4" ry="3.4" fill="#0c5a22" transform="rotate(-206 61.8 118.7)"/><ellipse cx="58.4" cy="121.9" rx="1.4" ry="3.4" fill="#1f9a40" transform="rotate(-194 58.4 121.9)"/><ellipse cx="56.6" cy="124.1" rx="1.3" ry="3.0" fill="#2aa84a" transform="rotate(-161 56.6 124.1)"/><ellipse cx="53.8" cy="127.5" rx="1.3" ry="3.2" fill="#178a36" transform="rotate(-191 53.8 127.5)"/><ellipse cx="52.6" cy="130.8" rx="1.3" ry="3.0" fill="#0c5a22" transform="rotate(-206 52.6 130.8)"/><ellipse cx="65.9" cy="116.0" rx="1.3" ry="3.0" fill="#1f9a40" transform="rotate(-185 65.9 116.0)"/><ellipse cx="66.5" cy="120.9" rx="1.4" ry="3.4" fill="#2aa84a" transform="rotate(-193 66.5 120.9)"/><ellipse cx="63.1" cy="123.3" rx="1.4" ry="3.4" fill="#2aa84a" transform="rotate(-211 63.1 123.3)"/><ellipse cx="62.9" cy="127.8" rx="1.3" ry="3.0" fill="#178a36" transform="rotate(-201 62.9 127.8)"/><ellipse cx="69.7" cy="117.9" rx="1.3" ry="3.0" fill="#2aa84a" transform="rotate(-205 69.7 117.9)"/><ellipse cx="69.6" cy="121.8" rx="1.4" ry="3.4" fill="#2aa84a" transform="rotate(-200 69.6 121.8)"/><ellipse cx="67.3" cy="124.7" rx="1.4" ry="3.4" fill="#0c5a22" transform="rotate(-193 67.3 124.7)"/><ellipse cx="65.9" cy="129.2" rx="1.3" ry="3.0" fill="#0c5a22" transform="rotate(-202 65.9 129.2)"/><ellipse cx="74.3" cy="118.5" rx="1.3" ry="3.0" fill="#2aa84a" transform="rotate(-212 74.3 118.5)"/><ellipse cx="73.6" cy="122.1" rx="1.4" ry="3.4" fill="#178a36" transform="rotate(-213 73.6 122.1)"/><ellipse cx="70.8" cy="126.2" rx="1.4" ry="3.4" fill="#0c5a22" transform="rotate(-222 70.8 126.2)"/><ellipse cx="70.9" cy="131.5" rx="1.3" ry="3.0" fill="#178a36" transform="rotate(-214 70.9 131.5)"/><ellipse cx="97.7" cy="39.7" rx="1.3" ry="3.0" fill="#178a36" transform="rotate(41 97.7 39.7)"/><ellipse cx="98.7" cy="34.4" rx="1.4" ry="3.4" fill="#2aa84a" transform="rotate(58 98.7 34.4)"/><ellipse cx="100.1" cy="29.3" rx="1.4" ry="3.4" fill="#0c5a22" transform="rotate(46 100.1 29.3)"/><ellipse cx="102.1" cy="26.9" rx="1.3" ry="3.0" fill="#1f9a40" transform="rotate(68 102.1 26.9)"/><ellipse cx="100.8" cy="40.0" rx="1.3" ry="3.0" fill="#0c5a22" transform="rotate(70 100.8 40.0)"/><ellipse cx="105.0" cy="36.8" rx="1.4" ry="3.4" fill="#0c5a22" transform="rotate(39 105.0 36.8)"/><ellipse cx="106.7" cy="33.2" rx="1.4" ry="3.4" fill="#2aa84a" transform="rotate(40 106.7 33.2)"/><ellipse cx="106.0" cy="27.0" rx="1.3" ry="3.0" fill="#0c5a22" transform="rotate(37 106.0 27.0)"/><ellipse cx="104.3" cy="40.8" rx="1.3" ry="3.0" fill="#2aa84a" transform="rotate(36 104.3 40.8)"/><ellipse cx="106.9" cy="36.8" rx="1.4" ry="3.4" fill="#178a36" transform="rotate(69 106.9 36.8)"/><ellipse cx="110.9" cy="34.5" rx="1.4" ry="3.4" fill="#0c5a22" transform="rotate(66 110.9 34.5)"/><ellipse cx="111.5" cy="31.4" rx="1.3" ry="3.0" fill="#2aa84a" transform="rotate(42 111.5 31.4)"/><ellipse cx="107.7" cy="44.0" rx="1.3" ry="3.0" fill="#1f9a40" transform="rotate(73 107.7 44.0)"/><ellipse cx="111.4" cy="39.2" rx="1.4" ry="3.4" fill="#178a36" transform="rotate(57 111.4 39.2)"/><ellipse cx="114.0" cy="35.8" rx="1.4" ry="3.4" fill="#2aa84a" transform="rotate(67 114.0 35.8)"/><ellipse cx="115.0" cy="33.7" rx="1.3" ry="3.0" fill="#178a36" transform="rotate(64 115.0 33.7)"/><ellipse cx="109.8" cy="45.6" rx="1.3" ry="3.0" fill="#0c5a22" transform="rotate(91 109.8 45.6)"/><ellipse cx="112.6" cy="41.9" rx="1.4" ry="3.4" fill="#178a36" transform="rotate(68 112.6 41.9)"/><ellipse cx="115.5" cy="38.9" rx="1.4" ry="3.4" fill="#0c5a22" transform="rotate(64 115.5 38.9)"/><ellipse cx="118.7" cy="35.5" rx="1.3" ry="3.0" fill="#178a36" transform="rotate(48 118.7 35.5)"/><ellipse cx="114.5" cy="48.7" rx="1.3" ry="3.0" fill="#2aa84a" transform="rotate(64 114.5 48.7)"/><ellipse cx="117.1" cy="44.1" rx="1.4" ry="3.4" fill="#2aa84a" transform="rotate(64 117.1 44.1)"/><ellipse cx="120.1" cy="40.5" rx="1.4" ry="3.4" fill="#0c5a22" transform="rotate(58 120.1 40.5)"/><ellipse cx="123.7" cy="38.5" rx="1.3" ry="3.0" fill="#1f9a40" transform="rotate(78 123.7 38.5)"/><ellipse cx="116.8" cy="52.3" rx="1.3" ry="3.0" fill="#2aa84a" transform="rotate(80 116.8 52.3)"/><ellipse cx="119.0" cy="46.6" rx="1.4" ry="3.4" fill="#1f9a40" transform="rotate(77 119.0 46.6)"/><ellipse cx="122.4" cy="44.1" rx="1.4" ry="3.4" fill="#178a36" transform="rotate(93 122.4 44.1)"/><ellipse cx="127.6" cy="42.2" rx="1.3" ry="3.0" fill="#178a36" transform="rotate(106 127.6 42.2)"/><ellipse cx="118.5" cy="52.8" rx="1.3" ry="3.0" fill="#0c5a22" transform="rotate(88 118.5 52.8)"/><ellipse cx="121.8" cy="49.6" rx="1.4" ry="3.4" fill="#178a36" transform="rotate(80 121.8 49.6)"/><ellipse cx="127.0" cy="49.7" rx="1.4" ry="3.4" fill="#1f9a40" transform="rotate(71 127.0 49.7)"/><ellipse cx="128.5" cy="45.4" rx="1.3" ry="3.0" fill="#1f9a40" transform="rotate(110 128.5 45.4)"/><ellipse cx="121.4" cy="56.6" rx="1.3" ry="3.0" fill="#178a36" transform="rotate(88 121.4 56.6)"/><ellipse cx="125.1" cy="55.3" rx="1.4" ry="3.4" fill="#0c5a22" transform="rotate(72 125.1 55.3)"/><ellipse cx="128.1" cy="51.0" rx="1.4" ry="3.4" fill="#178a36" transform="rotate(89 128.1 51.0)"/><ellipse cx="132.4" cy="49.0" rx="1.3" ry="3.0" fill="#0c5a22" transform="rotate(69 132.4 49.0)"/><ellipse cx="135.0" cy="46.7" rx="1.3" ry="3.2" fill="#0c5a22" transform="rotate(88 135.0 46.7)"/><ellipse cx="136.5" cy="44.7" rx="1.3" ry="3.0" fill="#178a36" transform="rotate(112 136.5 44.7)"/><ellipse cx="121.5" cy="59.5" rx="1.3" ry="3.0" fill="#178a36" transform="rotate(102 121.5 59.5)"/><ellipse cx="127.2" cy="56.8" rx="1.4" ry="3.4" fill="#178a36" transform="rotate(103 127.2 56.8)"/><ellipse cx="131.4" cy="56.4" rx="1.4" ry="3.4" fill="#178a36" transform="rotate(121 131.4 56.4)"/><ellipse cx="133.9" cy="52.1" rx="1.3" ry="3.0" fill="#1f9a40" transform="rotate(117 133.9 52.1)"/><ellipse cx="136.5" cy="50.8" rx="1.3" ry="3.2" fill="#0c5a22" transform="rotate(95 136.5 50.8)"/><ellipse cx="141.6" cy="52.5" rx="1.3" ry="3.0" fill="#0c5a22" transform="rotate(88 141.6 52.5)"/><ellipse cx="123.8" cy="64.3" rx="1.3" ry="3.0" fill="#1f9a40" transform="rotate(104 123.8 64.3)"/><ellipse cx="129.1" cy="62.3" rx="1.4" ry="3.4" fill="#2aa84a" transform="rotate(121 129.1 62.3)"/><ellipse cx="132.4" cy="60.3" rx="1.4" ry="3.4" fill="#178a36" transform="rotate(95 132.4 60.3)"/><ellipse cx="136.8" cy="59.3" rx="1.3" ry="3.0" fill="#0c5a22" transform="rotate(105 136.8 59.3)"/><ellipse cx="139.9" cy="58.1" rx="1.3" ry="3.2" fill="#1f9a40" transform="rotate(83 139.9 58.1)"/><ellipse cx="143.3" cy="55.5" rx="1.3" ry="3.0" fill="#0c5a22" transform="rotate(86 143.3 55.5)"/><ellipse cx="126.6" cy="67.4" rx="1.3" ry="3.0" fill="#1f9a40" transform="rotate(98 126.6 67.4)"/><ellipse cx="129.3" cy="64.5" rx="1.4" ry="3.4" fill="#0c5a22" transform="rotate(132 129.3 64.5)"/><ellipse cx="132.9" cy="63.2" rx="1.4" ry="3.4" fill="#2aa84a" transform="rotate(105 132.9 63.2)"/><ellipse cx="138.8" cy="63.6" rx="1.3" ry="3.0" fill="#1f9a40" transform="rotate(118 138.8 63.6)"/><ellipse cx="141.6" cy="63.0" rx="1.3" ry="3.2" fill="#178a36" transform="rotate(98 141.6 63.0)"/><ellipse cx="145.3" cy="60.1" rx="1.3" ry="3.0" fill="#2aa84a" transform="rotate(93 145.3 60.1)"/><ellipse cx="125.5" cy="69.4" rx="1.3" ry="3.0" fill="#2aa84a" transform="rotate(101 125.5 69.4)"/><ellipse cx="130.3" cy="68.8" rx="1.4" ry="3.4" fill="#2aa84a" transform="rotate(137 130.3 68.8)"/><ellipse cx="134.4" cy="69.0" rx="1.4" ry="3.4" fill="#1f9a40" transform="rotate(112 134.4 69.0)"/><ellipse cx="138.6" cy="66.1" rx="1.3" ry="3.0" fill="#0c5a22" transform="rotate(128 138.6 66.1)"/><ellipse cx="142.3" cy="68.6" rx="1.3" ry="3.2" fill="#1f9a40" transform="rotate(105 142.3 68.6)"/><ellipse cx="146.1" cy="64.1" rx="1.3" ry="3.0" fill="#2aa84a" transform="rotate(128 146.1 64.1)"/><ellipse cx="126.7" cy="75.0" rx="1.3" ry="3.0" fill="#0c5a22" transform="rotate(138 126.7 75.0)"/><ellipse cx="131.9" cy="73.5" rx="1.4" ry="3.4" fill="#1f9a40" transform="rotate(127 131.9 73.5)"/><ellipse cx="135.8" cy="71.3" rx="1.4" ry="3.4" fill="#2aa84a" transform="rotate(123 135.8 71.3)"/><ellipse cx="139.2" cy="70.6" rx="1.3" ry="3.0" fill="#178a36" transform="rotate(94 139.2 70.6)"/><ellipse cx="143.9" cy="69.9" rx="1.3" ry="3.2" fill="#1f9a40" transform="rotate(137 143.9 69.9)"/><ellipse cx="147.2" cy="72.8" rx="1.3" ry="3.0" fill="#178a36" transform="rotate(113 147.2 72.8)"/><ellipse cx="126.1" cy="76.2" rx="1.3" ry="3.0" fill="#0c5a22" transform="rotate(122 126.1 76.2)"/><ellipse cx="130.7" cy="75.9" rx="1.4" ry="3.4" fill="#2aa84a" transform="rotate(117 130.7 75.9)"/><ellipse cx="135.3" cy="77.7" rx="1.4" ry="3.4" fill="#178a36" transform="rotate(107 135.3 77.7)"/><ellipse cx="139.6" cy="76.7" rx="1.3" ry="3.0" fill="#1f9a40" transform="rotate(114 139.6 76.7)"/><ellipse cx="144.2" cy="76.2" rx="1.3" ry="3.2" fill="#0c5a22" transform="rotate(116 144.2 76.2)"/><ellipse cx="148.0" cy="74.7" rx="1.3" ry="3.0" fill="#2aa84a" transform="rotate(137 148.0 74.7)"/><ellipse cx="126.9" cy="80.7" rx="1.3" ry="3.0" fill="#0c5a22" transform="rotate(150 126.9 80.7)"/><ellipse cx="131.3" cy="82.6" rx="1.4" ry="3.4" fill="#0c5a22" transform="rotate(146 131.3 82.6)"/><ellipse cx="135.7" cy="81.9" rx="1.4" ry="3.4" fill="#2aa84a" transform="rotate(142 135.7 81.9)"/><ellipse cx="140.2" cy="80.0" rx="1.3" ry="3.0" fill="#0c5a22" transform="rotate(134 140.2 80.0)"/><ellipse cx="144.3" cy="80.4" rx="1.3" ry="3.2" fill="#2aa84a" transform="rotate(120 144.3 80.4)"/><ellipse cx="147.1" cy="80.8" rx="1.3" ry="3.0" fill="#1f9a40" transform="rotate(128 147.1 80.8)"/><ellipse cx="126.8" cy="83.5" rx="1.3" ry="3.0" fill="#2aa84a" transform="rotate(147 126.8 83.5)"/><ellipse cx="131.8" cy="84.8" rx="1.4" ry="3.4" fill="#0c5a22" transform="rotate(110 131.8 84.8)"/><ellipse cx="135.8" cy="85.4" rx="1.4" ry="3.4" fill="#1f9a40" transform="rotate(140 135.8 85.4)"/><ellipse cx="139.5" cy="88.2" rx="1.3" ry="3.0" fill="#2aa84a" transform="rotate(151 139.5 88.2)"/><ellipse cx="144.1" cy="87.9" rx="1.3" ry="3.2" fill="#2aa84a" transform="rotate(140 144.1 87.9)"/><ellipse cx="146.1" cy="89.0" rx="1.3" ry="3.0" fill="#0c5a22" transform="rotate(121 146.1 89.0)"/><ellipse cx="125.0" cy="89.3" rx="1.3" ry="3.0" fill="#2aa84a" transform="rotate(133 125.0 89.3)"/><ellipse cx="130.9" cy="88.6" rx="1.4" ry="3.4" fill="#1f9a40" transform="rotate(157 130.9 88.6)"/><ellipse cx="135.0" cy="91.9" rx="1.4" ry="3.4" fill="#178a36" transform="rotate(149 135.0 91.9)"/><ellipse cx="139.1" cy="89.9" rx="1.3" ry="3.0" fill="#178a36" transform="rotate(140 139.1 89.9)"/><ellipse cx="141.9" cy="92.7" rx="1.3" ry="3.2" fill="#0c5a22" transform="rotate(127 141.9 92.7)"/><ellipse cx="145.6" cy="93.7" rx="1.3" ry="3.0" fill="#1f9a40" transform="rotate(136 145.6 93.7)"/><ellipse cx="126.3" cy="90.7" rx="1.3" ry="3.0" fill="#0c5a22" transform="rotate(140 126.3 90.7)"/><ellipse cx="129.4" cy="94.2" rx="1.4" ry="3.4" fill="#2aa84a" transform="rotate(143 129.4 94.2)"/><ellipse cx="132.9" cy="95.6" rx="1.4" ry="3.4" fill="#178a36" transform="rotate(123 132.9 95.6)"/><ellipse cx="136.6" cy="95.4" rx="1.3" ry="3.0" fill="#1f9a40" transform="rotate(140 136.6 95.4)"/><ellipse cx="140.9" cy="95.2" rx="1.3" ry="3.2" fill="#178a36" transform="rotate(163 140.9 95.2)"/><ellipse cx="144.0" cy="99.4" rx="1.3" ry="3.0" fill="#0c5a22" transform="rotate(122 144.0 99.4)"/><ellipse cx="124.0" cy="95.8" rx="1.3" ry="3.0" fill="#1f9a40" transform="rotate(126 124.0 95.8)"/><ellipse cx="127.5" cy="98.6" rx="1.4" ry="3.4" fill="#2aa84a" transform="rotate(166 127.5 98.6)"/><ellipse cx="133.1" cy="97.9" rx="1.4" ry="3.4" fill="#2aa84a" transform="rotate(137 133.1 97.9)"/><ellipse cx="135.6" cy="101.2" rx="1.3" ry="3.0" fill="#178a36" transform="rotate(135 135.6 101.2)"/><ellipse cx="138.5" cy="102.2" rx="1.3" ry="3.2" fill="#178a36" transform="rotate(140 138.5 102.2)"/><ellipse cx="141.6" cy="104.9" rx="1.3" ry="3.0" fill="#0c5a22" transform="rotate(138 141.6 104.9)"/><ellipse cx="122.0" cy="97.5" rx="1.3" ry="3.0" fill="#178a36" transform="rotate(153 122.0 97.5)"/><ellipse cx="125.6" cy="99.9" rx="1.4" ry="3.4" fill="#178a36" transform="rotate(148 125.6 99.9)"/><ellipse cx="130.3" cy="103.7" rx="1.4" ry="3.4" fill="#178a36" transform="rotate(138 130.3 103.7)"/><ellipse cx="134.1" cy="103.4" rx="1.3" ry="3.0" fill="#178a36" transform="rotate(159 134.1 103.4)"/><ellipse cx="135.9" cy="108.2" rx="1.3" ry="3.2" fill="#1f9a40" transform="rotate(157 135.9 108.2)"/><ellipse cx="140.6" cy="107.4" rx="1.3" ry="3.0" fill="#178a36" transform="rotate(171 140.6 107.4)"/><ellipse cx="121.3" cy="101.5" rx="1.3" ry="3.0" fill="#178a36" transform="rotate(162 121.3 101.5)"/><ellipse cx="123.5" cy="103.1" rx="1.4" ry="3.4" fill="#1f9a40" transform="rotate(145 123.5 103.1)"/><ellipse cx="128.0" cy="106.0" rx="1.4" ry="3.4" fill="#178a36" transform="rotate(148 128.0 106.0)"/><ellipse cx="130.8" cy="109.8" rx="1.3" ry="3.0" fill="#178a36" transform="rotate(146 130.8 109.8)"/><ellipse cx="133.9" cy="111.3" rx="1.3" ry="3.2" fill="#1f9a40" transform="rotate(160 133.9 111.3)"/><ellipse cx="137.6" cy="111.3" rx="1.3" ry="3.0" fill="#1f9a40" transform="rotate(165 137.6 111.3)"/><ellipse cx="118.9" cy="103.5" rx="1.3" ry="3.0" fill="#178a36" transform="rotate(152 118.9 103.5)"/><ellipse cx="121.3" cy="107.3" rx="1.4" ry="3.4" fill="#2aa84a" transform="rotate(154 121.3 107.3)"/><ellipse cx="125.8" cy="109.4" rx="1.4" ry="3.4" fill="#2aa84a" transform="rotate(161 125.8 109.4)"/><ellipse cx="129.7" cy="111.5" rx="1.3" ry="3.0" fill="#0c5a22" transform="rotate(172 129.7 111.5)"/><ellipse cx="132.5" cy="114.0" rx="1.3" ry="3.2" fill="#178a36" transform="rotate(181 132.5 114.0)"/><ellipse cx="133.8" cy="116.7" rx="1.3" ry="3.0" fill="#178a36" transform="rotate(139 133.8 116.7)"/><ellipse cx="115.5" cy="107.5" rx="1.3" ry="3.0" fill="#0c5a22" transform="rotate(174 115.5 107.5)"/><ellipse cx="120.0" cy="110.3" rx="1.4" ry="3.4" fill="#1f9a40" transform="rotate(145 120.0 110.3)"/><ellipse cx="121.9" cy="112.8" rx="1.4" ry="3.4" fill="#1f9a40" transform="rotate(146 121.9 112.8)"/><ellipse cx="126.3" cy="114.9" rx="1.3" ry="3.0" fill="#2aa84a" transform="rotate(189 126.3 114.9)"/><ellipse cx="128.1" cy="118.8" rx="1.3" ry="3.2" fill="#0c5a22" transform="rotate(176 128.1 118.8)"/><ellipse cx="128.9" cy="121.9" rx="1.3" ry="3.0" fill="#178a36" transform="rotate(161 128.9 121.9)"/><ellipse cx="113.3" cy="110.7" rx="1.3" ry="3.0" fill="#0c5a22" transform="rotate(186 113.3 110.7)"/><ellipse cx="114.7" cy="112.8" rx="1.4" ry="3.4" fill="#0c5a22" transform="rotate(192 114.7 112.8)"/><ellipse cx="120.2" cy="115.8" rx="1.4" ry="3.4" fill="#1f9a40" transform="rotate(156 120.2 115.8)"/><ellipse cx="122.4" cy="119.1" rx="1.3" ry="3.0" fill="#178a36" transform="rotate(154 122.4 119.1)"/><ellipse cx="123.2" cy="122.7" rx="1.3" ry="3.2" fill="#0c5a22" transform="rotate(177 123.2 122.7)"/><ellipse cx="126.3" cy="126.3" rx="1.3" ry="3.0" fill="#178a36" transform="rotate(198 126.3 126.3)"/><ellipse cx="110.3" cy="113.0" rx="1.3" ry="3.0" fill="#1f9a40" transform="rotate(165 110.3 113.0)"/><ellipse cx="114.1" cy="115.7" rx="1.4" ry="3.4" fill="#2aa84a" transform="rotate(195 114.1 115.7)"/><ellipse cx="114.4" cy="120.6" rx="1.4" ry="3.4" fill="#0c5a22" transform="rotate(172 114.4 120.6)"/><ellipse cx="118.0" cy="121.7" rx="1.3" ry="3.0" fill="#0c5a22" transform="rotate(199 118.0 121.7)"/><ellipse cx="120.2" cy="125.7" rx="1.3" ry="3.2" fill="#1f9a40" transform="rotate(154 120.2 125.7)"/><ellipse cx="122.6" cy="128.8" rx="1.3" ry="3.0" fill="#178a36" transform="rotate(182 122.6 128.8)"/><ellipse cx="106.2" cy="114.3" rx="1.3" ry="3.0" fill="#2aa84a" transform="rotate(189 106.2 114.3)"/><ellipse cx="109.8" cy="116.5" rx="1.4" ry="3.4" fill="#2aa84a" transform="rotate(163 109.8 116.5)"/><ellipse cx="111.8" cy="120.8" rx="1.4" ry="3.4" fill="#1f9a40" transform="rotate(160 111.8 120.8)"/><ellipse cx="115.1" cy="124.7" rx="1.3" ry="3.0" fill="#1f9a40" transform="rotate(160 115.1 124.7)"/><ellipse cx="114.6" cy="128.3" rx="1.3" ry="3.2" fill="#178a36" transform="rotate(189 114.6 128.3)"/><ellipse cx="119.2" cy="131.7" rx="1.3" ry="3.0" fill="#1f9a40" transform="rotate(184 119.2 131.7)"/><ellipse cx="103.1" cy="116.7" rx="1.3" ry="3.0" fill="#0c5a22" transform="rotate(201 103.1 116.7)"/><ellipse cx="106.7" cy="118.7" rx="1.4" ry="3.4" fill="#1f9a40" transform="rotate(168 106.7 118.7)"/><ellipse cx="106.7" cy="125.3" rx="1.4" ry="3.4" fill="#1f9a40" transform="rotate(203 106.7 125.3)"/><ellipse cx="108.5" cy="128.2" rx="1.3" ry="3.0" fill="#1f9a40" transform="rotate(180 108.5 128.2)"/><ellipse cx="101.7" cy="117.4" rx="1.3" ry="3.0" fill="#178a36" transform="rotate(200 101.7 117.4)"/><ellipse cx="102.6" cy="121.1" rx="1.4" ry="3.4" fill="#178a36" transform="rotate(169 102.6 121.1)"/><ellipse cx="102.0" cy="125.3" rx="1.4" ry="3.4" fill="#178a36" transform="rotate(209 102.0 125.3)"/><ellipse cx="104.3" cy="129.9" rx="1.3" ry="3.0" fill="#178a36" transform="rotate(194 104.3 129.9)"/><ellipse cx="96.5" cy="117.6" rx="1.3" ry="3.0" fill="#0c5a22" transform="rotate(195 96.5 117.6)"/><ellipse cx="98.0" cy="122.0" rx="1.4" ry="3.4" fill="#1f9a40" transform="rotate(198 98.0 122.0)"/><ellipse cx="99.2" cy="126.5" rx="1.4" ry="3.4" fill="#1f9a40" transform="rotate(217 99.2 126.5)"/><ellipse cx="100.2" cy="130.6" rx="1.3" ry="3.0" fill="#2aa84a" transform="rotate(196 100.2 130.6)"/><circle cx="46" cy="44" r="1.7" fill="#b8281a"/><circle cx="33" cy="73" r="1.7" fill="#b8281a"/><circle cx="35" cy="95" r="1.7" fill="#b8281a"/><circle cx="106" cy="26" r="1.7" fill="#b8281a"/><circle cx="98" cy="23" r="1.7" fill="#b8281a"/><circle cx="136" cy="96" r="1.7" fill="#b8281a"/><circle cx="47" cy="113" r="1.7" fill="#b8281a"/><polygon points="85.6,14.0 107.0,49.0 146.9,58.6 120.3,89.8 123.5,130.7 85.6,114.9 47.7,130.7 50.9,89.8 24.3,58.6 64.2,49.0" fill="#f4de18"/><polygon points="85.6,15.9 106.4,49.9 145.1,59.2 119.2,89.4 122.4,129.1 85.6,113.9 48.8,129.1 52.0,89.4 26.1,59.2 64.8,49.9" fill="#e3241a"/><polygon points="85.6,20.2 105.0,51.9 141.0,60.5 116.9,88.7 119.9,125.7 85.6,111.4 51.3,125.7 54.3,88.7 30.2,60.5 66.2,51.9" fill="#f6e616"/><polygon points="85.6,23.3 67.3,53.3 85.6,78.5" fill="#14993a"/><polygon points="138.1,61.4 103.9,53.3 85.6,78.5" fill="#14993a"/><polygon points="118.0,123.2 115.3,88.1 85.6,78.5" fill="#14993a"/><polygon points="53.2,123.2 85.6,109.7 85.6,78.5" fill="#14993a"/><polygon points="33.1,61.4 55.9,88.1 85.6,78.5" fill="#14993a"/><circle cx="85.6" cy="78.5" r="35" fill="#f0e020"/><circle cx="85.6" cy="78.5" r="33.9" fill="#0a97de"/><g fill="#06101c"><circle cx="85.6" cy="49.4" r="1.55"/><circle cx="92.3" cy="50.2" r="1.55"/><circle cx="98.7" cy="52.5" r="1.55"/><circle cx="104.3" cy="56.2" r="1.55"/><circle cx="108.9" cy="61.1" r="1.55"/><circle cx="112.3" cy="67.0" r="1.55"/><circle cx="114.3" cy="73.4" r="1.55"/><circle cx="114.7" cy="80.2" r="1.55"/><circle cx="113.5" cy="86.8" r="1.55"/><circle cx="110.8" cy="93.0" r="1.55"/><circle cx="106.8" cy="98.5" r="1.55"/><circle cx="101.6" cy="102.8" r="1.55"/><circle cx="95.6" cy="105.8" r="1.55"/><circle cx="89.0" cy="107.4" r="1.55"/><circle cx="82.2" cy="107.4" r="1.55"/><circle cx="75.6" cy="105.8" r="1.55"/><circle cx="69.6" cy="102.8" r="1.55"/><circle cx="64.4" cy="98.5" r="1.55"/><circle cx="60.4" cy="93.1" r="1.55"/><circle cx="57.7" cy="86.8" r="1.55"/><circle cx="56.5" cy="80.2" r="1.55"/><circle cx="56.9" cy="73.4" r="1.55"/><circle cx="58.9" cy="67.0" r="1.55"/><circle cx="62.3" cy="61.1" r="1.55"/><circle cx="66.9" cy="56.2" r="1.55"/><circle cx="72.5" cy="52.5" r="1.55"/><circle cx="78.9" cy="50.2" r="1.55"/></g><circle cx="85.6" cy="78.5" r="24.5" fill="#0a97de" stroke="#efe11c" stroke-width="1.2"/><circle cx="80.9" cy="62" r="1.9" fill="#06101c"/><circle cx="100.5" cy="68.3" r="1.5" fill="#06101c"/><circle cx="67.5" cy="75.4" r="1.4" fill="#06101c"/><circle cx="78.5" cy="78.5" r="1.4" fill="#06101c"/><polygon points="90.3,89.6 91.1,91.8 93.4,91.9 91.6,93.3 92.2,95.6 90.3,94.3 88.4,95.6 89.0,93.3 87.2,91.9 89.5,91.8" fill="#06101c"/><path d="M71,118 h9.5 v13 h-9.5z M91,118 h9.5 v13 h-9.5z" fill="#0a97de" opacity=".9"/><rect x="82.2" y="111.2" width="6.8" height="22" rx="3.2" fill="#000"/><path d="M74,124 l2,-3 l2,3 v6 h-4z M93.2,124 l2,-3 l2,3 v6 h-4z" fill="#d8b820"/><rect x="68.2" y="133.2" width="34.8" height="8.2" fill="#0a97de" stroke="#f0dc30" stroke-width="1.2"/><rect x="80" y="131.8" width="11.2" height="10.8" fill="#e3241a"/><polygon points="85.6,133.6 86.5,136.1 89.1,136.2 87.0,137.8 87.8,140.3 85.6,138.8 83.4,140.3 84.2,137.8 82.1,136.2 84.7,136.1" fill="#f6e414"/><path d="M4.7,122.3 L14.5,130.4 L11,131.5 Q40,153 70.5,161.5 L72,152.5 Q44,145 22,125.5 L12,121 Z" fill="#0a97de"/><path d="M166.5,122.3 L156.7,130.4 L160.2,131.5 Q131.2,153 100.7,161.5 L99.2,152.5 Q127.2,145 149.2,125.5 L159.2,121 Z" fill="#0a97de"/><path d="M29.5,126.5 Q85.6,159 141.7,126.5 L138.3,137 Q85.6,170 32.9,137 Z" fill="#0a97de"/><g font-family="Liberation Sans, sans-serif" font-weight="bold" font-style="italic" fill="#f0e030" stroke="#f0e030" stroke-width=".25"><text font-size="6.2"><textPath href="#rb1" startOffset="2" textLength="110" lengthAdjust="spacingAndGlyphs">REPÚBLICA FEDERATIVA DO BRASIL</textPath></text><text font-size="6"><textPath href="#rb2" startOffset="7" textLength="52" lengthAdjust="spacingAndGlyphs">15 de Novembro</textPath></text><text font-size="6"><textPath href="#rb3" startOffset="20" textLength="26" lengthAdjust="spacingAndGlyphs">de 1889</textPath></text></g></svg>
<svg id="lines" width="1497" height="1114" viewBox="0 0 1497 1114"><g fill="#e5d62c"><rect x="879.6" y="350.0" width="5.4" height="334.0"/><rect x="670.0" y="376.9" width="374.0" height="5.6"/><rect x="995.9" y="476.0" width="5.4" height="89.0"/><rect x="451.0" y="607.8" width="986.5" height="5.6"/><rect x="451.0" y="608.0" width="5.4" height="76.0"/><rect x="1220.1" y="608.0" width="5.4" height="76.0"/><rect x="1431.6" y="608.0" width="5.4" height="76.0"/><rect x="449.9" y="748.0" width="5.4" height="208.0"/><rect x="878.8" y="748.0" width="5.4" height="208.0"/><rect x="1220.1" y="748.0" width="5.4" height="152.0"/><rect x="325.0" y="902.2" width="255.6" height="5.6"/><rect x="325.0" y="902.2" width="5.4" height="53.8"/><rect x="575.5" y="902.2" width="5.4" height="53.8"/><rect x="754.3" y="902.2" width="256.5" height="5.6"/><rect x="754.2" y="902.2" width="5.4" height="53.8"/><rect x="1005.4" y="902.2" width="5.4" height="53.8"/><path d="M1143.6,897 L1319.7,895.2 L1319.7,901 L1143.6,902.8 Z"/><rect x="1143.6" y="897.0" width="5.4" height="59.0"/><rect x="1314.5" y="895.2" width="5.4" height="60.8"/></g></svg>
<div class="b b1" style="left:500.0px;top:211.0px;width:820.0px;height:71.0px"></div>
<div class="b w1" style="left:759.5px;top:309.5px;width:244.5px;height:41.5px"></div>
<div class="b b1" style="left:363.5px;top:351.2px;width:308.7px;height:56.6px"></div>
<div class="b b1" style="left:1042.2px;top:351.2px;width:308.6px;height:56.6px"></div>
<div class="b b1" style="left:692.0px;top:421.2px;width:347.0px;height:56.1px"></div>
<div class="b w2" style="left:944.0px;top:498.7px;width:110.6px;height:42.2px"></div>
<div class="b b1" style="left:948.0px;top:561.8px;width:106.6px;height:37.9px"></div>
<div class="b b1" style="left:300.5px;top:681.0px;width:329.7px;height:69.5px"></div>
<div class="b b1" style="left:685.6px;top:681.0px;width:328.8px;height:69.5px"></div>
<div class="b b1" style="left:1035.3px;top:681.0px;width:329.5px;height:69.5px"></div>
<div class="b b1" style="left:1376.0px;top:681.0px;width:115.0px;height:69.5px"></div>
<div class="b w2" style="left:1175.2px;top:767.0px;width:89.5px;height:32.6px"></div>
<div class="b b3" style="left:390.4px;top:826.7px;width:114.1px;height:39.6px"></div>
<div class="b b3" style="left:824.3px;top:826.7px;width:114.1px;height:39.6px"></div>
<div class="b b1" style="left:1173.6px;top:827.5px;width:111.6px;height:38.0px"></div>
<div class="b b2" style="left:268.0px;top:953.5px;width:115.6px;height:140.3px"></div>
<div class="b b2" style="left:394.3px;top:953.5px;width:115.7px;height:140.3px"></div>
<div class="b b2" style="left:520.4px;top:953.5px;width:115.6px;height:140.3px"></div>
<div class="b b2" style="left:695.0px;top:953.5px;width:116.0px;height:140.3px"></div>
<div class="b b2" style="left:823.1px;top:953.5px;width:115.7px;height:140.3px"></div>
<div class="b b2" style="left:951.3px;top:953.5px;width:115.8px;height:140.3px"></div>
<div class="b b2" style="left:1086.7px;top:953.5px;width:144.9px;height:140.3px"></div>
<div class="b b2" style="left:1241.2px;top:953.5px;width:165.8px;height:140.3px"></div>
<div style="position:absolute;left:879.6px;top:472px;width:5.4px;height:8px;background:#e5d62c"></div>
<svg id="icons" width="1497" height="1114" viewBox="0 0 1497 1114"><path d="M434,625 l3.5,3.2 l1.2,-3.4 l3,4.2 h22.2 l3,-4.2 l1.2,3.4 l3.5,-3.2 l-4.6,12.2 q-14.4,-5.2 -28.8,0z" fill="#e39a14"/><path d="M441.2,622.6 l5.2,-1.6 l1.8,11 l-5.2,1.2z M464.4,622.6 l-5.2,-1.6 l-1.8,11 l5.2,1.2z" fill="#f6f3ea"/><path d="M449.2,625 l3.6,-4.6 l3.6,4.6 v9 h-7.2z" fill="#eba313"/><rect x="450.6" y="626.4" width="4.4" height="1.6" fill="#8a5a08"/><path d="M438.4,634.2 q14.4,-5.6 28.8,0 l-1.2,3.6 q-13.2,-4.6 -26.4,0z" fill="#f2ad2a"/><circle cx="452.8" cy="633.6" r="1.2" fill="#3c9a3c"/><circle cx="446.6" cy="634.6" r="1.1" fill="#b83024"/><circle cx="459" cy="634.6" r="1.1" fill="#b83024"/><circle cx="452.8" cy="659.8" r="22.3" fill="#000066" stroke="#e39410" stroke-width="3.7"/><circle cx="452.8" cy="659.8" r="22.3" fill="none" stroke="#f8bc3c" stroke-width="1.5" stroke-dasharray="2.4 2.27"/><defs><path id="nv" d="M438.2,660.3 A14.6,14.6 0 0 1 467.4,660.3"/></defs><text font-family="Liberation Sans, sans-serif" font-weight="bold" font-size="6.1" fill="#eba313" stroke="#eba313" stroke-width=".45"><textPath href="#nv" startOffset="1" textLength="43.5" lengthAdjust="spacingAndGlyphs">MARINHA DO BRASIL</textPath></text><g stroke="#eba313" fill="none" stroke-linecap="round"><circle cx="452.8" cy="649.7" r="2.5" stroke-width="1.7"/><path d="M452.8,652.4 V676.0" stroke-width="2.5"/><path d="M447.5,656.4 H458.1" stroke-width="2.3"/><path d="M443.8,670.5 Q446.3,676.0 452.8,676.4 Q459.3,676.0 461.8,670.5" stroke-width="2.7"/></g><path d="M442.2,675.6 l0.6,-7.8 l5.6,4.4z M463.4,675.6 l-0.6,-7.8 l-5.6,4.4z" fill="#eba313"/><path d="M879.1,654.8C878.3,652.6 874.8,651.7 873.5,649.9C872.2,648.0 871.4,645.5 871.2,643.6C871.1,641.6 871.7,639.4 872.5,638.1C873.3,636.8 876.4,636.5 876.3,635.7C876.2,635.0 874.0,634.1 872.1,633.6C870.2,633.1 867.4,633.3 865.1,632.8C862.7,632.3 860.4,631.6 858.1,630.7C855.7,629.7 853.3,628.4 851.0,627.2C848.8,625.9 846.4,623.9 844.7,623.1C843.1,622.3 842.0,621.9 841.1,622.4C840.2,622.9 839.6,624.7 839.3,626.0C839.1,627.4 839.5,628.8 839.7,630.6C839.9,632.3 840.1,634.4 840.5,636.5C841.0,638.7 841.6,641.4 842.5,643.6C843.4,645.7 844.6,647.6 846.0,649.3C847.4,651.1 849.0,652.8 851.0,654.1C853.1,655.4 855.7,656.0 858.1,657.0C860.4,658.0 862.7,659.0 865.1,660.0C867.4,660.9 869.8,662.2 872.1,662.6C874.3,663.1 877.4,664.1 878.5,662.8C879.7,661.5 879.9,656.9 879.1,654.8Z" fill="#e7b400" stroke="#c79400" stroke-width=".7"/><path d="M885.4,654.8C886.3,652.6 889.7,651.7 891.0,649.9C892.3,648.0 893.1,645.5 893.3,643.6C893.4,641.6 892.9,639.4 892.0,638.1C891.2,636.8 888.2,636.5 888.2,635.7C888.3,635.0 890.6,634.1 892.4,633.6C894.3,633.1 897.1,633.3 899.4,632.8C901.8,632.3 904.1,631.6 906.5,630.7C908.8,629.7 911.3,628.4 913.5,627.2C915.7,625.9 918.1,623.9 919.8,623.1C921.5,622.3 922.5,621.9 923.4,622.4C924.3,622.9 925.0,624.7 925.2,626.0C925.4,627.4 925.0,628.8 924.8,630.6C924.6,632.3 924.5,634.4 924.0,636.5C923.5,638.7 922.9,641.4 922.0,643.6C921.1,645.7 920.0,647.6 918.5,649.3C917.1,651.1 915.5,652.8 913.5,654.1C911.5,655.4 908.8,656.0 906.5,657.0C904.1,658.0 901.8,659.0 899.4,660.0C897.1,660.9 894.7,662.2 892.4,662.6C890.2,663.1 887.2,664.1 886.0,662.8C884.8,661.5 884.6,656.9 885.4,654.8Z" fill="#e7b400" stroke="#c79400" stroke-width=".7"/><path d="M870.3,635.7L842.6,626.0M894.2,635.7L921.9,626.0M869.6,638.1L841.2,631.6M894.9,638.1L923.3,631.6M869.6,640.8L841.9,638.3M894.9,640.8L922.6,638.3M870.3,643.4L844.0,644.8M894.2,643.4L920.5,644.8M871.7,646.7L847.9,650.2M892.8,646.7L916.6,650.2M873.8,649.7L853.5,654.1M890.7,649.7L911.0,654.1M875.9,652.5L860.5,657.2M888.6,652.5L904.0,657.2M878.0,655.3L868.6,660.7M886.5,655.3L895.9,660.7" stroke="#ffe236" stroke-width="1.7" stroke-linecap="round" fill="none"/><path d="M879.4,633 L882.3,628.6 L885.2,633 V664 H879.4Z" fill="#e0b000"/><path d="M879.4,633 L882.3,628.6 V664 H879.4Z" fill="#f8e400"/><path d="M872.3,664 L882.3,666.5 L892.3,664 V671.6 L882.3,669.4 L872.3,671.6Z" fill="#e6b800" stroke="#c79400" stroke-width=".5"/><path d="M880.1,670 H884.5 V680.5 L885.7,682 L882.3,685 L878.9,682 L880.1,680.5Z" fill="#e6b800"/><path d="M1220.2,627 L1222.7,619.6 L1225.1,627Z" fill="#e4e4de" stroke="#9a9a94" stroke-width=".5"/><g fill="#ecebe6" stroke="#a9a59e" stroke-width=".6"><circle cx="1224.5" cy="624.0" r="2.45"/><circle cx="1228.2" cy="625.2" r="2.45"/><circle cx="1231.6" cy="627.5" r="2.45"/><circle cx="1234.6" cy="630.7" r="2.45"/><circle cx="1237.0" cy="634.8" r="2.45"/><circle cx="1238.6" cy="639.6" r="2.45"/><circle cx="1239.4" cy="644.7" r="2.45"/><circle cx="1239.4" cy="649.9" r="2.45"/><circle cx="1238.6" cy="655.0" r="2.45"/><circle cx="1237.0" cy="659.7" r="2.45"/><circle cx="1234.6" cy="663.8" r="2.45"/><circle cx="1231.6" cy="667.1" r="2.45"/><circle cx="1228.2" cy="669.4" r="2.45"/><circle cx="1224.6" cy="670.6" r="2.45"/><circle cx="1220.8" cy="670.6" r="2.45"/><circle cx="1217.1" cy="669.4" r="2.45"/><circle cx="1213.7" cy="667.1" r="2.45"/><circle cx="1210.7" cy="663.9" r="2.45"/><circle cx="1208.3" cy="659.8" r="2.45"/><circle cx="1206.7" cy="655.0" r="2.45"/><circle cx="1205.9" cy="649.9" r="2.45"/><circle cx="1205.9" cy="644.7" r="2.45"/><circle cx="1206.7" cy="639.6" r="2.45"/><circle cx="1208.3" cy="634.9" r="2.45"/><circle cx="1210.7" cy="630.8" r="2.45"/><circle cx="1213.7" cy="627.5" r="2.45"/><circle cx="1217.1" cy="625.2" r="2.45"/><circle cx="1220.7" cy="624.0" r="2.45"/></g><path d="M1214.7,667.8 l6,2.4 l-3.6,5.4z M1230.7,667.8 l-6,2.4 l3.6,5.4z" fill="#dcdcd4" stroke="#8e8e88" stroke-width=".5"/><path d="M1220.8,669 h3.8 v10.2 l1.7,1.6 l-1.2,2.4 h-4.8 l-1.2,-2.4 l1.7,-1.6z" fill="#c9c9c3" stroke="#85857f" stroke-width=".5"/><ellipse cx="1222.65" cy="647.3" rx="15.2" ry="21.4" fill="#eeeeea"/><ellipse cx="1222.65" cy="647.3" rx="13.7" ry="19.7" fill="#0d9a32"/><ellipse cx="1222.65" cy="647.3" rx="10.2" ry="15.1" fill="#f8ee0a"/><ellipse cx="1222.65" cy="647.3" rx="7.4" ry="11.6" fill="#2c208c"/><circle cx="1222.6" cy="639.3" r="1.25" fill="#f4f2fa"/><circle cx="1226.5" cy="644.9" r="1.25" fill="#f4f2fa"/><circle cx="1219.1" cy="646.3" r="1.25" fill="#f4f2fa"/><circle cx="1224.0" cy="648.4" r="1.25" fill="#f4f2fa"/><circle cx="1223.0" cy="654.7" r="1.25" fill="#f4f2fa"/></svg>
<div class="t" style="left:182.50px;top:17.48px;font-size:30.38px;transform:scaleX(0.9757);color:#fff;text-shadow:2px 2px 3px #000,0 0 4px #000,0 0 2px #000;">PRESIDÊNCIA DA REPÚBLICA</div>
<div class="t" style="left:182.50px;top:52.48px;font-size:30.38px;transform:scaleX(0.9759);color:#fff;text-shadow:2px 2px 3px #000,0 0 4px #000,0 0 2px #000;">GABINETE DE SEGURANÇA INSTITUCIONAL</div>
<div class="t" style="left:977.60px;top:105.79px;font-size:32.85px;transform:scaleX(1.0674);color:#ffff00;text-shadow:2px 2px 0 #3c3c10,1px 1px 0 #3c3c10,2.5px 2px 1px #3c3c10;-webkit-text-stroke:1.1px #ffff00;">Organograma</div>
<div class="t" style="left:616.00px;top:228.91px;font-size:37.79px;transform:scaleX(0.8989);color:#fff;text-shadow:0 1px 2px rgba(20,50,110,.55);">Gabinete de Segurança Institucional</div>
<div class="t" style="left:829.20px;top:318.15px;font-size:28.05px;transform:scaleX(0.9677);color:#000;">Ministro</div>
<div class="t" style="left:395.60px;top:367.12px;font-size:27.62px;transform:scaleX(0.9072);color:#fff;text-shadow:0 1px 2px rgba(20,50,110,.55);">Assessoria Especial</div>
<div class="t" style="left:1060.90px;top:367.12px;font-size:27.62px;transform:scaleX(0.9849);color:#fff;text-shadow:0 1px 2px rgba(20,50,110,.55);">Gabinete do Ministro</div>
<div class="t" style="left:736.10px;top:437.48px;font-size:27.91px;transform:scaleX(0.9382);color:#fff;text-shadow:0 1px 2px rgba(20,50,110,.55);">Secretaria-Executiva</div>
<div class="t" style="left:966.40px;top:509.84px;font-size:21.80px;transform:scaleX(0.9159);color:#000;">SE Adj</div>
<div class="t" style="left:968.60px;top:568.35px;font-size:26.16px;transform:scaleX(0.8642);color:#fff;text-shadow:0 1px 2px rgba(20,50,110,.55);">DGES</div>
<div class="t" style="left:326.20px;top:690.48px;font-size:22.82px;transform:scaleX(0.9336);color:#fff;text-shadow:0 1px 2px rgba(20,50,110,.55);">Secretaria de Coordenação</div>
<div class="t" style="left:403.90px;top:719.68px;font-size:22.82px;transform:scaleX(0.9095);color:#fff;text-shadow:0 1px 2px rgba(20,50,110,.55);">de Sistemas</div>
<div class="t" style="left:717.60px;top:689.98px;font-size:22.82px;transform:scaleX(0.9230);color:#fff;text-shadow:0 1px 2px rgba(20,50,110,.55);">Secretaria de Assuntos de</div>
<div class="t" style="left:702.50px;top:719.28px;font-size:22.82px;transform:scaleX(0.9270);color:#fff;text-shadow:0 1px 2px rgba(20,50,110,.55);">Defesa e Segurança Nacional</div>
<div class="t" style="left:1068.40px;top:690.38px;font-size:22.82px;transform:scaleX(0.9192);color:#fff;text-shadow:0 1px 2px rgba(20,50,110,.55);">Secretaria de Segurança e</div>
<div class="t" style="left:1067.80px;top:719.78px;font-size:22.82px;transform:scaleX(0.9228);color:#fff;text-shadow:0 1px 2px rgba(20,50,110,.55);">Coordenação Presidencial</div>
<div class="t" style="left:1407.20px;top:704.71px;font-size:22.67px;transform:scaleX(0.9199);color:#fff;text-shadow:0 1px 2px rgba(20,50,110,.55);">ABIN</div>
<div class="t" style="left:1189.70px;top:775.03px;font-size:18.75px;transform:scaleX(0.9662);color:#000;">SE Adj</div>
<div class="t" style="left:404.30px;top:836.67px;font-size:22.24px;transform:scaleX(0.9620);color:#fff;text-shadow:0 1px 2px rgba(20,50,110,.55);">Div Adm</div>
<div class="t" style="left:838.20px;top:836.67px;font-size:22.24px;transform:scaleX(0.9653);color:#fff;text-shadow:0 1px 2px rgba(20,50,110,.55);">Div Adm</div>
<div class="t" style="left:1185.60px;top:836.67px;font-size:22.24px;transform:scaleX(0.9709);color:#fff;text-shadow:0 1px 2px rgba(20,50,110,.55);">Div Adm</div>
<div class="t" style="left:298.60px;top:1011.98px;font-size:26.60px;transform:scaleX(0.8683);color:#fff;text-shadow:0 1px 2px rgba(20,50,110,.55);">DSIC</div>
<div class="t" style="left:429.90px;top:975.81px;font-size:19.48px;transform:scaleX(1.0222);color:#fff;text-shadow:0 1px 2px rgba(20,50,110,.55);">Dept</div>
<div class="t" style="left:419.40px;top:1002.41px;font-size:19.48px;transform:scaleX(0.9784);color:#fff;text-shadow:0 1px 2px rgba(20,50,110,.55);">Acomp</div>
<div class="t" style="left:410.30px;top:1028.41px;font-size:19.48px;transform:scaleX(0.9277);color:#fff;text-shadow:0 1px 2px rgba(20,50,110,.55);">Assuntos</div>
<div class="t" style="left:424.90px;top:1055.01px;font-size:19.48px;transform:scaleX(0.9816);color:#fff;text-shadow:0 1px 2px rgba(20,50,110,.55);">Aep e</div>
<div class="t" style="left:555.70px;top:988.81px;font-size:19.48px;transform:scaleX(1.0245);color:#fff;text-shadow:0 1px 2px rgba(20,50,110,.55);">Dept</div>
<div class="t" style="left:556.50px;top:1015.41px;font-size:19.48px;transform:scaleX(0.9279);color:#fff;text-shadow:0 1px 2px rgba(20,50,110,.55);">Coor</div>
<div class="t" style="left:542.70px;top:1041.41px;font-size:19.48px;transform:scaleX(0.9412);color:#fff;text-shadow:0 1px 2px rgba(20,50,110,.55);">SIPRON</div>
<div class="t" style="left:730.60px;top:988.81px;font-size:19.48px;transform:scaleX(1.0245);color:#fff;text-shadow:0 1px 2px rgba(20,50,110,.55);">Dept</div>
<div class="t" style="left:711.00px;top:1015.41px;font-size:19.48px;transform:scaleX(0.9344);color:#fff;text-shadow:0 1px 2px rgba(20,50,110,.55);">Assuntos</div>
<div class="t" style="left:711.80px;top:1041.41px;font-size:19.48px;transform:scaleX(1.0395);color:#fff;text-shadow:0 1px 2px rgba(20,50,110,.55);">Militares</div>
<div class="t" style="left:858.80px;top:988.81px;font-size:19.48px;transform:scaleX(1.0222);color:#fff;text-shadow:0 1px 2px rgba(20,50,110,.55);">Dept</div>
<div class="t" style="left:839.20px;top:1015.41px;font-size:19.48px;transform:scaleX(0.9333);color:#fff;text-shadow:0 1px 2px rgba(20,50,110,.55);">Assuntos</div>
<div class="t" style="left:844.40px;top:1041.41px;font-size:19.48px;transform:scaleX(0.9993);color:#fff;text-shadow:0 1px 2px rgba(20,50,110,.55);">Def Nac</div>
<div class="t" style="left:987.20px;top:988.81px;font-size:19.48px;transform:scaleX(1.0245);color:#fff;text-shadow:0 1px 2px rgba(20,50,110,.55);">Dept</div>
<div class="t" style="left:967.70px;top:1015.41px;font-size:19.48px;transform:scaleX(0.9299);color:#fff;text-shadow:0 1px 2px rgba(20,50,110,.55);">Assuntos</div>
<div class="t" style="left:971.60px;top:1041.41px;font-size:19.48px;transform:scaleX(0.9114);color:#fff;text-shadow:0 1px 2px rgba(20,50,110,.55);">CREDEN</div>
<div class="t" style="left:1137.00px;top:988.81px;font-size:19.48px;transform:scaleX(1.0245);color:#fff;text-shadow:0 1px 2px rgba(20,50,110,.55);">Dept</div>
<div class="t" style="left:1111.50px;top:1015.41px;font-size:19.48px;transform:scaleX(0.9456);color:#fff;text-shadow:0 1px 2px rgba(20,50,110,.55);">Segurança</div>
<div class="t" style="left:1103.10px;top:1041.41px;font-size:19.48px;transform:scaleX(0.9702);color:#fff;text-shadow:0 1px 2px rgba(20,50,110,.55);">Presidencial</div>
<div class="t" style="left:1268.60px;top:962.01px;font-size:19.48px;transform:scaleX(0.9820);color:#fff;text-shadow:0 1px 2px rgba(20,50,110,.55);">Dept&nbsp; Coord</div>
<div class="t" style="left:1284.70px;top:988.81px;font-size:19.48px;transform:scaleX(0.9468);color:#fff;text-shadow:0 1px 2px rgba(20,50,110,.55);">Eventos,</div>
<div class="t" style="left:1280.80px;top:1015.41px;font-size:19.48px;transform:scaleX(0.9496);color:#fff;text-shadow:0 1px 2px rgba(20,50,110,.55);">Viagens e</div>
<div class="t" style="left:1274.30px;top:1041.41px;font-size:19.48px;transform:scaleX(0.9832);color:#fff;text-shadow:0 1px 2px rgba(20,50,110,.55);">Cerimonial</div>
<div class="t" style="left:1292.50px;top:1068.31px;font-size:19.48px;transform:scaleX(1.0774);color:#fff;text-shadow:0 1px 2px rgba(20,50,110,.55);">Militar</div>
</div>
</body>
</html>
